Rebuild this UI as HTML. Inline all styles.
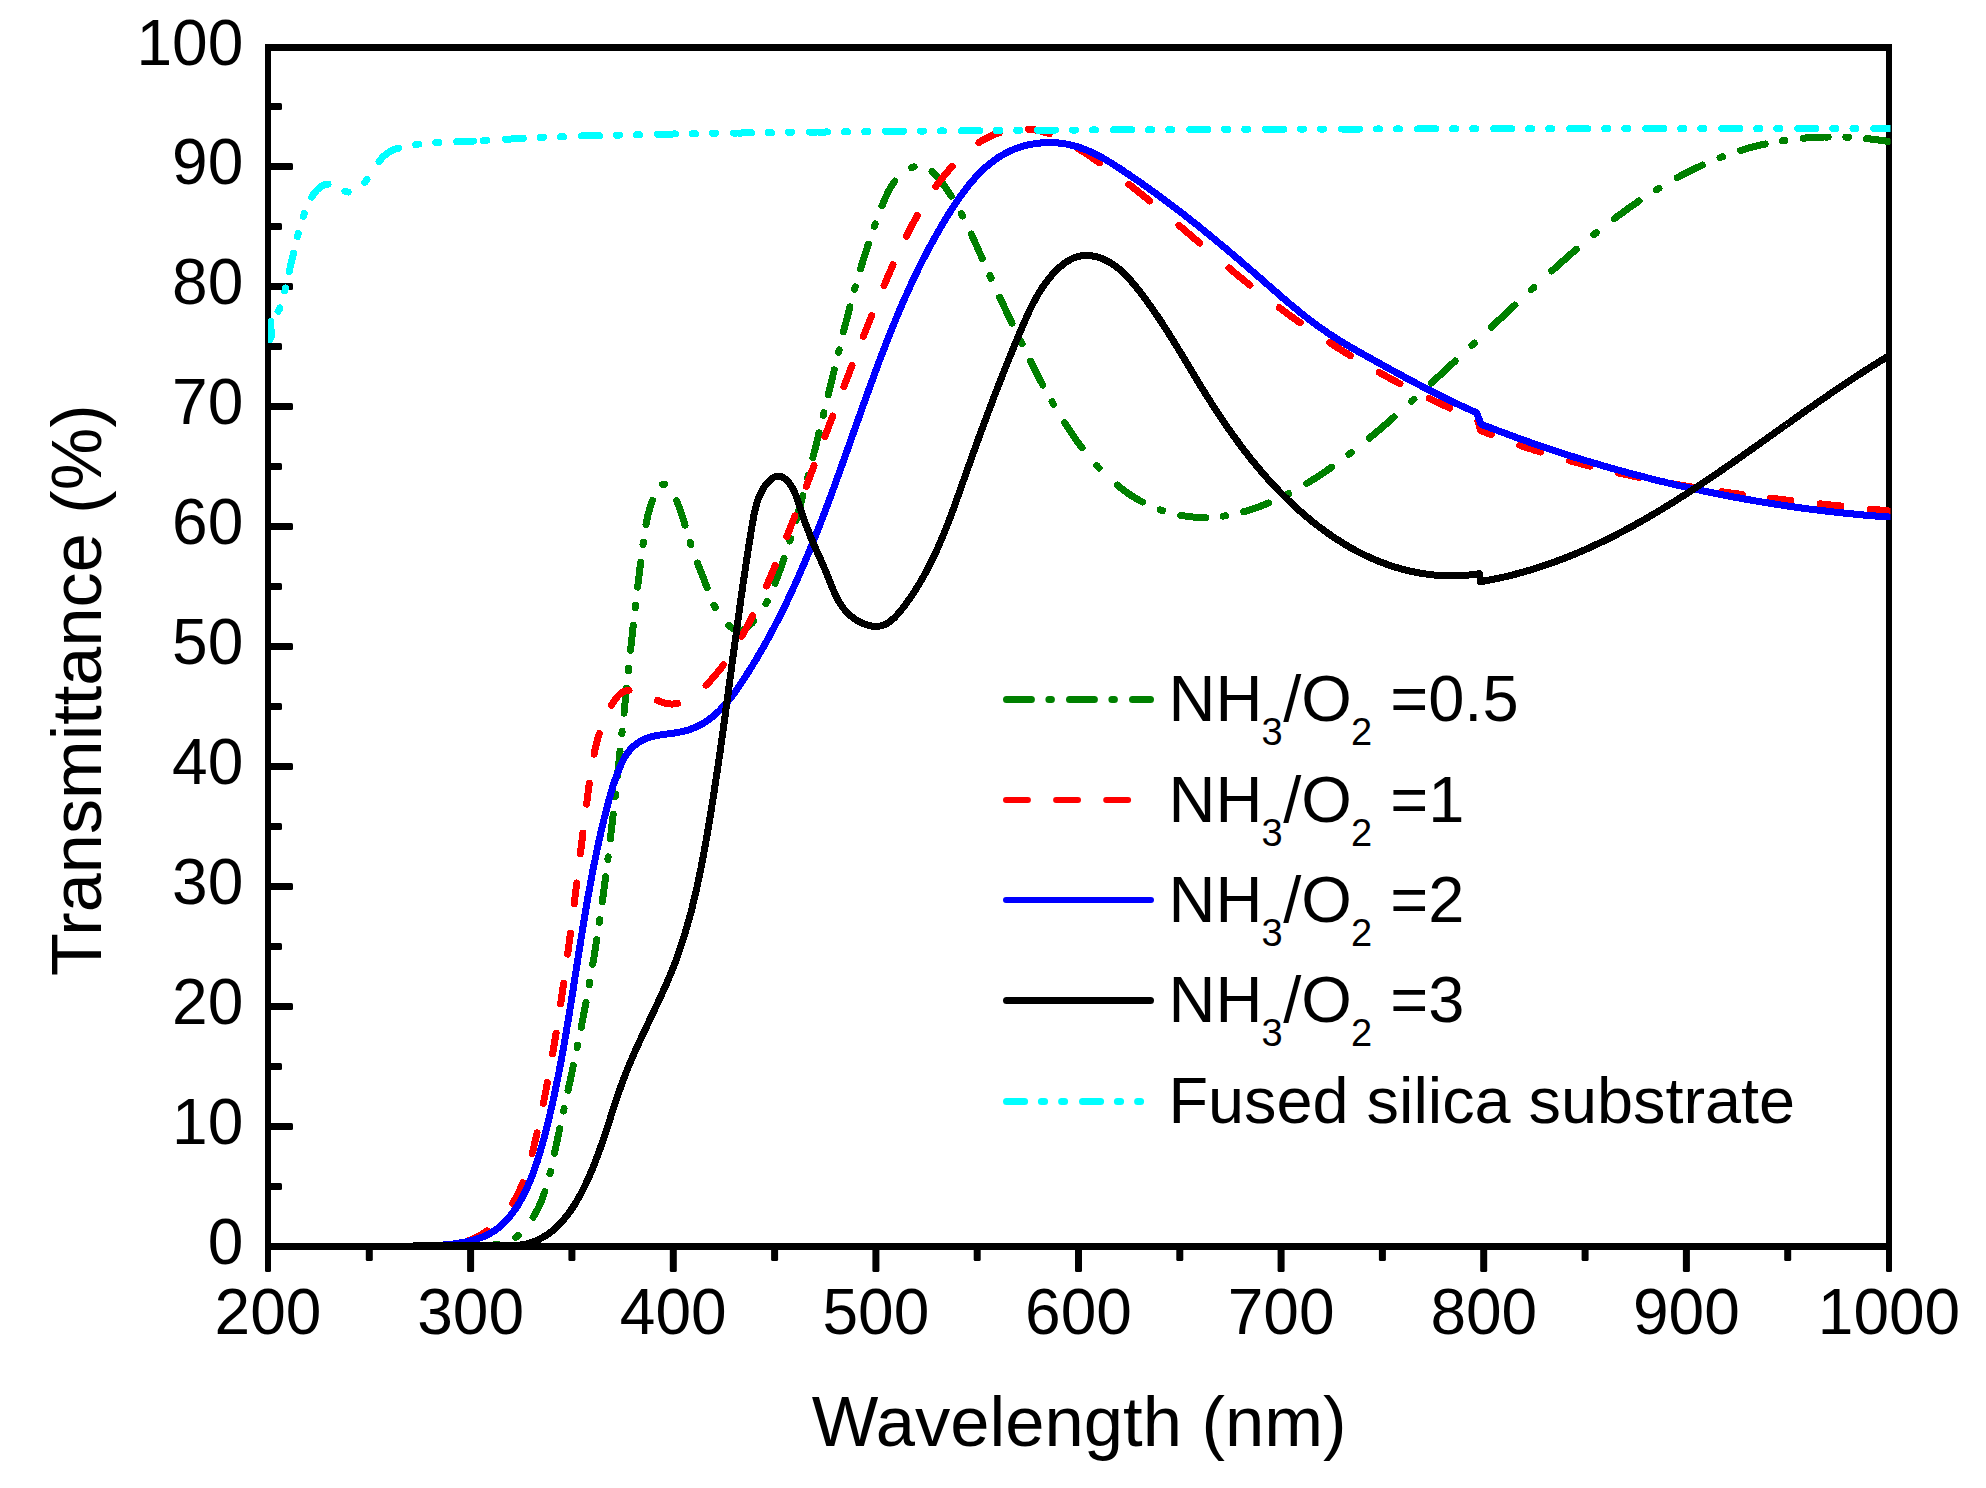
<!DOCTYPE html>
<html lang="en"><head><meta charset="utf-8"><title>Transmittance spectra</title>
<style>html,body{margin:0;padding:0;background:#fff}svg{display:block}text{font-family:"Liberation Sans",Arial,sans-serif;fill:#000}</style></head><body>
<svg width="1986" height="1488" viewBox="0 0 1986 1488">
<rect width="1986" height="1488" fill="#fff"/>
<defs><clipPath id="pc"><rect x="268.0" y="46.5" width="1622.5" height="1196.5"/></clipPath></defs>
<g fill="#000" shape-rendering="crispEdges">
<rect x="265" y="44" width="6" height="1206"/>
<rect x="1886" y="44" width="6" height="1206"/>
<rect x="265" y="44" width="1627" height="7"/>
<rect x="265" y="1243" width="1627" height="7"/>
</g>
<g fill="#000">
<rect x="268" y="1183.0" width="14" height="7" rx="1.5"/>
<rect x="268" y="1123.0" width="25" height="7" rx="1.5"/>
<rect x="268" y="1063.0" width="14" height="7" rx="1.5"/>
<rect x="268" y="1003.0" width="25" height="7" rx="1.5"/>
<rect x="268" y="943.0" width="14" height="7" rx="1.5"/>
<rect x="268" y="883.0" width="25" height="7" rx="1.5"/>
<rect x="268" y="823.0" width="14" height="7" rx="1.5"/>
<rect x="268" y="763.0" width="25" height="7" rx="1.5"/>
<rect x="268" y="703.0" width="14" height="7" rx="1.5"/>
<rect x="268" y="643.0" width="25" height="7" rx="1.5"/>
<rect x="268" y="583.0" width="14" height="7" rx="1.5"/>
<rect x="268" y="523.0" width="25" height="7" rx="1.5"/>
<rect x="268" y="463.0" width="14" height="7" rx="1.5"/>
<rect x="268" y="403.0" width="25" height="7" rx="1.5"/>
<rect x="268" y="343.0" width="14" height="7" rx="1.5"/>
<rect x="268" y="283.0" width="25" height="7" rx="1.5"/>
<rect x="268" y="223.0" width="14" height="7" rx="1.5"/>
<rect x="268" y="163.0" width="25" height="7" rx="1.5"/>
<rect x="268" y="103.0" width="14" height="7" rx="1.5"/>
<rect x="265.0" y="1246" width="6" height="26" rx="1.5"/>
<rect x="365.8" y="1246" width="7" height="15" rx="1.5"/>
<rect x="467.1" y="1246" width="7" height="26" rx="1.5"/>
<rect x="568.4" y="1246" width="7" height="15" rx="1.5"/>
<rect x="669.8" y="1246" width="7" height="26" rx="1.5"/>
<rect x="771.1" y="1246" width="7" height="15" rx="1.5"/>
<rect x="872.4" y="1246" width="7" height="26" rx="1.5"/>
<rect x="973.7" y="1246" width="7" height="15" rx="1.5"/>
<rect x="1075.0" y="1246" width="7" height="26" rx="1.5"/>
<rect x="1176.3" y="1246" width="7" height="15" rx="1.5"/>
<rect x="1277.6" y="1246" width="7" height="26" rx="1.5"/>
<rect x="1378.9" y="1246" width="7" height="15" rx="1.5"/>
<rect x="1480.2" y="1246" width="7" height="26" rx="1.5"/>
<rect x="1581.6" y="1246" width="7" height="15" rx="1.5"/>
<rect x="1682.9" y="1246" width="7" height="26" rx="1.5"/>
<rect x="1784.2" y="1246" width="7" height="15" rx="1.5"/>
<rect x="1886.0" y="1246" width="6" height="26" rx="1.5"/>
</g>
<g clip-path="url(#pc)" fill="none" stroke-linecap="round" stroke-linejoin="round" shape-rendering="crispEdges">
<path d="M488.7 1246.2L490.6 1245.6L492.5 1245.1L494.5 1244.8L496.5 1244.6L498.2 1244.4M515.7 1237.4L516.8 1236.5L518.2 1235.2M533.1 1217.2L533.6 1216.4L534.6 1214.8L535.6 1213.1L536.5 1211.3L537.4 1209.6L538.3 1207.8L539.1 1206.1L539.9 1204.3L540.7 1202.5L541.5 1200.7L542.2 1198.9L542.9 1197.0L543.6 1195.2L544.2 1193.3L544.8 1191.7M549.9 1173.8L550.2 1172.2L550.5 1171.3M554.5 1153.3L554.6 1152.6L555.0 1150.6L555.5 1148.6L555.9 1146.7L556.3 1144.7L556.7 1142.7L557.1 1140.7L557.6 1138.8L558.0 1136.8L558.4 1134.8L558.8 1132.9L559.3 1130.9L559.7 1128.9L559.8 1128.5M563.6 1111.0L564.0 1109.3L564.1 1108.5M568.0 1090.4L568.2 1089.7L568.6 1087.7L569.0 1085.7L569.4 1083.8L569.9 1081.8L570.3 1079.9L570.7 1077.9L571.1 1075.9L571.5 1074.0L572.0 1072.0L572.4 1070.1L572.8 1068.1L573.2 1066.1L573.3 1065.4M577.0 1047.9L577.3 1046.6L577.5 1045.4M581.2 1027.3L581.2 1027.0L581.6 1025.0L582.0 1023.0L582.4 1021.1L582.8 1019.1L583.2 1017.2L583.5 1015.2L583.9 1013.2L584.3 1011.3L584.7 1009.3L585.0 1007.3L585.4 1005.4L585.8 1003.4L586.0 1002.4M589.2 984.8L589.4 983.8L589.6 982.3M592.7 964.4L592.8 964.1L593.1 962.1L593.4 960.1L593.8 958.2L594.1 956.2L594.4 954.2L594.7 952.2L595.0 950.3L595.4 948.3L595.7 946.3L596.0 944.3L596.3 942.4L596.6 940.4L596.7 939.7M599.3 922.3L599.6 920.6L599.7 919.8M602.3 901.7L602.4 900.8L602.7 898.8L603.0 896.8L603.2 894.9L603.5 892.9L603.8 890.9L604.0 888.9L604.3 886.9L604.6 884.9L604.8 883.0L605.1 881.0L605.3 879.0L605.6 877.0L605.6 876.8M607.9 859.3L607.9 859.1L608.1 857.1L608.2 856.8M610.4 838.8L610.5 837.2L610.8 835.3L611.0 833.3L611.2 831.3L611.5 829.3L611.7 827.3L611.9 825.3L612.2 823.3L612.4 821.3L612.6 819.3L612.9 817.3L613.1 815.4L613.2 814.0M615.2 796.5L615.3 795.4L615.5 794.0M617.4 776.0L617.5 775.5L617.7 773.5L617.9 771.5L618.1 769.5L618.3 767.5L618.5 765.5L618.7 763.5L618.9 761.6L619.2 759.6L619.4 757.6L619.6 755.6L619.8 753.6L620.0 751.6L620.0 751.2M621.8 733.7L621.9 733.6L622.1 731.7L622.1 731.2M624.0 713.1L624.1 711.7L624.3 709.7L624.5 707.7L624.7 705.7L624.9 703.8L625.2 701.8L625.4 699.8L625.6 697.8L625.8 695.8L626.0 693.8L626.2 691.8L626.4 689.8L626.5 688.3M628.4 670.8L628.5 669.9L628.6 668.3M630.6 650.2L630.6 650.0L630.8 648.0L631.0 646.0L631.2 644.0L631.4 642.0L631.6 640.1L631.9 638.1L632.1 636.1L632.3 634.1L632.5 632.1L632.7 630.1L632.9 628.1L633.2 626.1L633.3 625.3M635.2 607.8L635.4 606.3L635.5 605.3M637.6 587.1L637.7 586.5L638.0 584.5L638.2 582.5L638.4 580.5L638.7 578.5L638.9 576.6L639.2 574.6L639.4 572.6L639.6 570.6L639.9 568.7L640.1 566.7L640.4 564.7L640.6 562.7L640.7 562.2M643.0 544.7L643.2 543.0L643.3 542.2M646.0 524.7L646.2 523.2L646.6 521.2L647.0 519.3L647.5 517.3L647.9 515.3L648.4 513.3L649.0 511.4L649.5 509.4L650.1 507.4L650.7 505.4L651.4 503.4L652.1 501.4L652.5 500.5M662.5 484.3L663.2 484.0L664.6 484.0L664.9 484.1M676.5 500.6L676.9 501.5L677.7 503.5L678.5 505.4L679.2 507.3L679.9 509.3L680.6 511.2L681.3 513.1L681.9 515.0L682.5 516.9L683.1 518.8L683.7 520.7L684.3 522.6L684.8 524.5L685.0 525.1M690.1 542.3L690.4 543.2L690.9 544.8M697.4 562.9L697.8 563.9L698.5 565.8L699.3 567.7L700.0 569.6L700.8 571.5L701.5 573.4L702.2 575.2L703.0 577.1L703.7 579.0L704.4 580.9L705.2 582.8L705.9 584.7L706.6 586.5L707.1 587.8M714.0 605.2L714.8 606.8L715.3 607.7M728.9 625.5L729.6 626.1L731.3 627.4L733.1 628.6L735.0 629.5L736.8 630.2L738.7 630.5L740.5 630.4L742.2 630.0L744.0 629.3L745.7 628.4L747.3 627.2L748.9 626.0L750.5 624.5L752.0 623.1L753.4 621.6L753.7 621.3M765.9 603.9L766.1 603.4L767.0 601.7L767.2 601.4M775.0 583.3L775.0 583.3L775.8 581.4L776.5 579.5L777.2 577.7L777.9 575.8L778.6 573.9L779.3 572.0L780.0 570.2L780.7 568.3L781.3 566.4L782.0 564.5L782.7 562.6L783.3 560.7L784.0 558.8L784.1 558.5M789.8 541.0L790.2 539.8L790.6 538.5M796.0 520.4L796.5 518.7L797.1 516.8L797.6 514.9L798.1 512.9L798.7 511.0L799.2 509.1L799.8 507.2L800.3 505.2L800.8 503.3L801.4 501.4L801.9 499.4L802.4 497.5L802.9 495.6M807.6 478.1L808.1 476.3L808.2 475.6M812.9 457.6L813.0 456.9L813.5 455.0L814.0 453.1L814.5 451.1L815.0 449.2L815.5 447.3L816.0 445.3L816.4 443.4L816.9 441.4L817.4 439.5L817.9 437.6L818.4 435.6L818.8 433.7L819.1 432.7M823.3 415.3L823.6 414.3L823.9 412.8M828.3 394.7L828.7 392.9L829.2 390.9L829.7 389.0L830.1 387.0L830.6 385.1L831.1 383.1L831.5 381.2L832.0 379.3L832.5 377.3L832.9 375.4L833.4 373.4L833.9 371.5L834.2 369.9M838.4 352.4L838.6 352.0L839.0 350.0L839.1 349.9M843.5 331.8L843.8 330.6L844.3 328.6L844.8 326.7L845.3 324.7L845.8 322.8L846.3 320.9L846.8 318.9L847.3 317.0L847.8 315.0L848.3 313.1L848.8 311.2L849.3 309.2L849.8 307.3L849.9 306.9M854.6 289.4L855.0 288.0L855.3 286.9M860.6 268.9L860.6 268.8L861.1 266.9L861.7 265.0L862.3 263.1L862.9 261.2L863.5 259.3L864.1 257.4L864.6 255.5L865.2 253.6L865.8 251.7L866.5 249.8L867.1 247.9L867.7 246.0L868.3 244.1L868.3 244.0M874.3 226.5L874.7 225.2L875.2 224.0M882.0 205.9L882.7 204.4L883.4 202.5L884.2 200.6L885.0 198.7L885.9 196.8L886.7 195.0L887.6 193.1L888.5 191.3L889.5 189.5L890.5 187.7L891.5 186.0L892.6 184.3L893.7 182.7L894.9 181.1M911.7 167.7L912.0 167.6L913.9 166.9L914.2 166.8M932.2 171.5L932.7 171.9L934.2 173.3L935.6 174.8L937.0 176.3L938.4 177.9L939.7 179.6L941.0 181.3L942.3 183.0L943.5 184.7L944.7 186.4L945.9 188.1L947.1 189.9L948.3 191.6L949.4 193.3L950.5 195.0L951.3 196.2M961.4 213.6L961.7 214.3L962.6 216.0L962.6 216.1M971.3 234.0L972.1 235.7L972.9 237.5L973.7 239.3L974.5 241.1L975.3 242.9L976.1 244.7L976.9 246.5L977.7 248.3L978.5 250.1L979.3 251.9L980.1 253.7L980.9 255.5L981.7 257.3L982.2 258.5M989.9 275.7L990.7 277.4L991.1 278.3M999.7 297.2L999.9 297.5L1000.7 299.3L1001.6 301.1L1002.4 302.9L1003.3 304.8L1004.1 306.6L1005.0 308.4L1005.9 310.2L1006.7 312.1L1007.6 313.9L1008.4 315.7L1009.3 317.5L1010.2 319.3L1011.0 321.2L1011.9 323.0L1012.0 323.2M1020.8 341.4L1021.5 342.9L1022.0 343.9M1030.5 361.2L1031.2 362.5L1032.1 364.3L1033.0 366.1L1033.9 367.9L1034.8 369.6L1035.7 371.4L1036.6 373.2L1037.5 374.9L1038.4 376.7L1039.3 378.5L1040.2 380.2L1041.2 382.0L1042.1 383.7L1042.8 385.1M1052.1 401.8L1052.7 402.9L1053.5 404.3M1064.6 422.6L1065.1 423.4L1066.2 425.1L1067.3 426.8L1068.4 428.5L1069.5 430.2L1070.6 431.8L1071.8 433.5L1072.9 435.2L1074.1 436.8L1075.2 438.5L1076.4 440.2L1077.6 441.8L1078.8 443.4L1080.0 445.1L1081.2 446.7L1082.0 447.8M1096.6 465.5L1097.9 466.9L1099.0 468.0M1117.2 485.1L1118.3 486.1L1119.8 487.3L1121.4 488.5L1123.0 489.7L1124.6 490.9L1126.2 492.1L1127.8 493.2L1129.5 494.3L1131.1 495.4L1132.8 496.5L1134.5 497.5L1136.2 498.6L1137.9 499.6L1139.6 500.5L1141.4 501.5L1142.4 502.0M1160.1 509.8L1161.5 510.3L1162.6 510.6M1180.7 515.3L1180.9 515.4L1182.9 515.7L1184.9 516.0L1186.9 516.3L1188.8 516.6L1190.8 516.8L1192.8 517.0L1194.8 517.2L1196.8 517.3L1198.8 517.4L1200.8 517.5L1202.8 517.6L1204.8 517.6L1205.6 517.6M1223.1 516.2L1224.7 515.9L1225.6 515.8M1243.7 511.7L1244.3 511.6L1246.2 511.0L1248.1 510.5L1250.1 509.9L1252.0 509.2L1253.9 508.6L1255.8 507.9L1257.7 507.3L1259.6 506.6L1261.5 505.8L1263.3 505.1L1265.2 504.4L1267.1 503.6L1268.7 503.0M1286.2 494.9L1287.1 494.4L1288.7 493.6M1306.7 483.5L1308.0 482.7L1309.7 481.7L1311.4 480.6L1313.1 479.6L1314.8 478.5L1316.5 477.4L1318.2 476.3L1319.8 475.2L1321.5 474.1L1323.2 473.0L1324.8 471.9L1326.5 470.8L1328.1 469.6L1329.8 468.5L1331.4 467.3L1331.5 467.3M1348.9 454.4L1349.1 454.3L1350.7 453.1L1351.4 452.5M1369.4 438.1L1369.4 438.1L1370.9 436.8L1372.5 435.5L1374.0 434.3L1375.5 433.0L1377.1 431.7L1378.6 430.4L1380.1 429.1L1381.6 427.8L1383.2 426.5L1384.7 425.2L1386.2 423.9L1387.7 422.6L1389.2 421.3L1390.7 419.9L1392.2 418.6L1393.7 417.3L1394.1 417.0M1411.5 401.4L1411.6 401.3L1413.1 399.9L1413.9 399.2M1431.2 383.2L1432.2 382.3L1433.7 380.9L1435.2 379.6L1436.6 378.2L1438.1 376.8L1439.6 375.5L1441.1 374.1L1442.5 372.7L1444.0 371.4L1445.5 370.0L1446.9 368.6L1448.4 367.3L1449.9 365.9L1451.3 364.5L1452.8 363.2L1454.3 361.8L1455.1 361.0M1471.9 345.3L1473.3 344.0L1474.3 343.1M1491.4 327.1L1492.3 326.2L1493.8 324.8L1495.2 323.5L1496.7 322.1L1498.2 320.7L1499.6 319.4L1501.1 318.0L1502.5 316.6L1504.0 315.3L1505.5 313.9L1506.9 312.5L1508.4 311.2L1509.8 309.8L1511.3 308.4L1512.8 307.1L1514.2 305.7L1514.9 305.1M1531.4 289.7L1531.7 289.3L1533.2 288.0L1533.8 287.4M1551.7 271.0L1552.3 270.5L1553.8 269.2L1555.3 267.8L1556.7 266.5L1558.2 265.2L1559.7 263.8L1561.2 262.5L1562.7 261.2L1564.2 259.9L1565.7 258.5L1567.2 257.2L1568.7 255.9L1570.2 254.6L1571.7 253.3L1573.2 252.0L1574.7 250.7L1576.2 249.4L1576.4 249.2M1593.8 234.8L1594.7 234.0L1596.2 232.8L1596.3 232.8M1614.3 218.7L1615.3 218.0L1616.9 216.8L1618.5 215.6L1620.1 214.4L1621.8 213.2L1623.4 212.0L1625.0 210.8L1626.7 209.6L1628.3 208.5L1629.9 207.3L1631.6 206.1L1633.2 205.0L1634.9 203.8L1636.6 202.7L1638.2 201.6L1639.0 201.0M1656.4 189.8L1656.8 189.6L1658.5 188.5L1658.9 188.3M1677.2 177.7L1677.6 177.5L1679.4 176.5L1681.1 175.6L1682.9 174.7L1684.7 173.7L1686.4 172.8L1688.2 171.9L1690.0 171.0L1691.8 170.1L1693.6 169.3L1695.4 168.4L1697.2 167.5L1699.0 166.7L1700.8 165.9L1702.4 165.1M1720.1 157.7L1721.0 157.3L1722.6 156.7M1740.5 150.5L1741.7 150.2L1743.6 149.6L1745.5 149.0L1747.4 148.5L1749.3 147.9L1751.2 147.4L1753.2 146.9L1755.1 146.4L1757.0 145.9L1759.0 145.4L1760.9 145.0L1762.9 144.5L1764.8 144.1L1765.1 144.0M1782.4 140.8L1782.5 140.7L1784.5 140.4L1784.9 140.4M1803.2 138.2L1804.5 138.1L1806.5 137.9L1808.5 137.8L1810.5 137.7L1812.5 137.5L1814.5 137.4L1816.5 137.3L1818.5 137.2L1820.5 137.1L1822.5 137.1L1824.5 137.0L1826.6 137.0L1828.2 137.0M1845.9 137.2L1846.7 137.2L1848.4 137.3M1866.5 138.6L1866.6 138.6L1868.6 138.8L1870.6 139.0L1872.6 139.3L1874.6 139.5L1876.5 139.7L1878.5 140.0L1880.5 140.3L1882.4 140.6L1884.4 140.8L1886.3 141.1L1888.3 141.5" stroke="#008000" stroke-width="7.0"/>
<path d="M430.3 1245.6L432.2 1245.9L434.2 1246.1L436.2 1246.3L437.1 1246.3M466.3 1241.6L468.0 1241.0L469.9 1240.2L471.8 1239.4L473.7 1238.6L475.6 1237.7L477.4 1236.8L479.2 1235.8L481.0 1234.8L482.7 1233.8L484.5 1232.7L486.1 1231.6L487.2 1230.9M512.6 1203.5L513.5 1202.0L514.5 1200.3L515.4 1198.6L516.3 1196.9L517.2 1195.2L518.1 1193.5L518.9 1191.7L519.8 1189.9L520.6 1188.1L521.4 1186.3L522.1 1184.5L522.8 1182.7M532.1 1153.6L532.6 1151.9L533.1 1149.9L533.6 1147.9L534.0 1145.9L534.5 1143.9L535.0 1141.9L535.5 1139.9L535.9 1137.9L536.4 1135.9L536.8 1133.9L537.1 1132.7M543.3 1103.4L543.6 1102.0L544.0 1100.0L544.4 1098.0L544.8 1096.0L545.2 1094.0L545.6 1092.0L546.0 1090.1L546.3 1088.1L546.7 1086.1L547.1 1084.1L547.4 1082.6M552.6 1053.9L552.8 1052.5L553.2 1050.5L553.5 1048.6L553.8 1046.6L554.2 1044.6L554.5 1042.6L554.8 1040.7L555.2 1038.7L555.5 1036.7L555.8 1034.8L556.1 1033.1M560.6 1004.0L560.7 1003.3L561.0 1001.4L561.3 999.4L561.6 997.4L561.9 995.5L562.2 993.5L562.5 991.5L562.8 989.6L563.0 987.6L563.3 985.7L563.6 983.7L563.7 983.2M567.7 954.2L567.9 952.3L568.2 950.3L568.5 948.3L568.7 946.4L569.0 944.4L569.2 942.4L569.5 940.5L569.8 938.5L570.0 936.5L570.3 934.6L570.4 933.3M574.2 903.9L574.3 903.0L574.5 901.0L574.8 899.0L575.0 897.1L575.3 895.1L575.5 893.1L575.8 891.1L576.0 889.1L576.2 887.2L576.5 885.2L576.7 883.2L576.8 883.0M580.3 853.9L580.4 853.4L580.7 851.4L580.9 849.4L581.1 847.4L581.4 845.4L581.6 843.4L581.9 841.4L582.1 839.4L582.4 837.4L582.6 835.4L582.9 833.3L582.9 833.1M586.6 804.1L586.7 803.1L587.0 801.1L587.2 799.1L587.5 797.0L587.8 795.0L588.0 793.0L588.3 790.9L588.6 788.9L588.8 786.9L589.1 784.8L589.3 783.3M594.1 754.1L594.4 752.6L594.8 750.6L595.3 748.7L595.7 746.7L596.2 744.8L596.7 742.8L597.2 740.9L597.7 739.0L598.2 737.1L598.8 735.1L599.3 733.6M611.4 705.4L611.8 704.7L612.8 703.0L613.8 701.4L614.9 699.8L616.0 698.3L617.2 696.9L618.4 695.6L619.7 694.4L621.0 693.3L622.4 692.4L623.8 691.6L625.3 691.0L626.9 690.5L628.5 690.3L629.0 690.2M657.4 700.4L659.3 701.2L661.3 701.9L663.3 702.6L665.3 703.2L667.2 703.6L669.2 703.9L671.1 704.0L673.1 704.0L675.0 703.9L676.8 703.7L677.7 703.5M706.1 685.2L707.0 684.3L708.4 682.7L709.9 681.2L711.3 679.7L712.6 678.2L714.0 676.6L715.3 675.1L716.6 673.5L717.9 672.0L719.2 670.4L720.4 668.8L721.7 667.2L722.9 665.6L723.4 664.8M741.6 636.3L742.1 635.5L743.1 633.8L744.0 632.1L745.0 630.3L745.9 628.6L746.8 626.8L747.8 625.1L748.7 623.3L749.6 621.5L750.5 619.8L751.4 618.0L752.3 616.2L752.7 615.6M766.4 586.1L766.7 585.5L767.5 583.7L768.3 581.8L769.1 580.0L769.9 578.1L770.7 576.3L771.5 574.5L772.2 572.6L773.0 570.8L773.8 568.9L774.6 567.0L775.3 565.3M786.8 536.6L787.3 535.4L788.0 533.5L788.8 531.6L789.5 529.7L790.2 527.9L790.9 526.0L791.7 524.1L792.4 522.3L793.1 520.4L793.9 518.5L794.6 516.7L794.9 515.8M806.2 486.4L806.8 484.8L807.5 483.0L808.2 481.1L808.9 479.2L809.6 477.4L810.3 475.5L811.0 473.6L811.7 471.7L812.4 469.9L813.1 468.0L813.8 466.1L814.0 465.6M824.9 436.9L825.1 436.2L825.8 434.3L826.5 432.5L827.2 430.6L827.9 428.7L828.6 426.9L829.3 425.0L830.0 423.1L830.8 421.2L831.5 419.4L832.2 417.5L832.7 416.0M843.9 386.5L844.2 385.8L844.9 383.9L845.6 382.1L846.3 380.2L847.0 378.3L847.8 376.5L848.5 374.6L849.2 372.7L849.9 370.9L850.6 369.0L851.4 367.1L852.0 365.5M863.3 336.5L863.7 335.5L864.5 333.6L865.2 331.8L865.9 329.9L866.7 328.1L867.4 326.2L868.2 324.3L868.9 322.5L869.7 320.6L870.4 318.8L871.2 316.9L871.7 315.5M884.0 285.6L884.2 285.3L884.9 283.5L885.7 281.6L886.5 279.7L887.3 277.9L888.1 276.0L888.9 274.2L889.7 272.3L890.5 270.5L891.3 268.6L892.1 266.8L892.9 264.9L893.0 264.7M906.3 236.2L906.5 235.8L907.4 234.0L908.3 232.2L909.2 230.4L910.2 228.6L911.1 226.9L912.0 225.1L913.0 223.3L913.9 221.6L914.9 219.8L915.9 218.1L916.8 216.3L917.3 215.6M935.9 186.5L936.2 186.1L937.3 184.5L938.5 182.9L939.7 181.4L941.0 179.8L942.2 178.2L943.4 176.7L944.7 175.1L945.9 173.6L947.2 172.0L948.5 170.5L949.8 169.0L951.1 167.5L952.2 166.3M979.0 142.6L979.4 142.3L981.0 141.3L982.7 140.2L984.5 139.2L986.2 138.3L988.0 137.4L989.8 136.5L991.6 135.7L993.4 134.9L995.3 134.1L997.1 133.5L999.0 132.8L999.2 132.8M1028.4 129.2L1029.3 129.3L1031.3 129.5L1033.3 129.7L1035.3 130.0L1037.2 130.4L1039.2 130.8L1041.1 131.2L1043.0 131.7L1044.9 132.3L1046.8 132.9L1048.6 133.5L1049.4 133.8M1078.6 148.8L1078.8 148.9L1080.5 150.0L1082.2 151.1L1083.9 152.2L1085.6 153.3L1087.2 154.4L1088.9 155.5L1090.6 156.6L1092.3 157.8L1093.9 158.9L1095.6 160.0L1097.2 161.2L1098.9 162.3L1099.6 162.8M1128.9 184.3L1129.5 184.8L1131.1 186.0L1132.7 187.2L1134.2 188.5L1135.8 189.7L1137.4 190.9L1138.9 192.2L1140.5 193.4L1142.1 194.7L1143.6 195.9L1145.2 197.2L1146.7 198.4L1148.3 199.7L1149.7 200.9M1178.9 225.2L1179.0 225.4L1180.5 226.7L1182.1 228.0L1183.6 229.3L1185.1 230.6L1186.6 231.9L1188.2 233.2L1189.7 234.5L1191.2 235.8L1192.7 237.1L1194.2 238.4L1195.8 239.7L1197.3 241.0L1198.8 242.3L1199.8 243.1M1229.0 268.0L1229.4 268.3L1230.9 269.6L1232.4 270.9L1234.0 272.1L1235.5 273.4L1237.1 274.7L1238.6 276.0L1240.2 277.2L1241.7 278.5L1243.3 279.8L1244.8 281.0L1246.4 282.3L1247.9 283.6L1249.5 284.8L1249.9 285.2M1279.2 307.7L1279.7 308.0L1281.3 309.2L1282.9 310.4L1284.5 311.6L1286.1 312.8L1287.7 313.9L1289.4 315.1L1291.0 316.3L1292.6 317.4L1294.2 318.6L1295.9 319.8L1297.5 320.9L1299.1 322.1L1300.2 322.8M1329.7 342.6L1330.7 343.3L1332.4 344.3L1334.1 345.4L1335.8 346.5L1337.4 347.6L1339.1 348.6L1340.8 349.7L1342.5 350.8L1344.2 351.8L1345.9 352.9L1347.6 353.9L1349.3 355.0L1350.5 355.7M1379.2 372.4L1380.4 373.1L1382.2 374.1L1383.9 375.1L1385.7 376.0L1387.4 377.0L1389.2 377.9L1390.9 378.9L1392.7 379.9L1394.5 380.8L1396.2 381.7L1398.0 382.7L1399.8 383.6L1399.9 383.7M1429.2 398.4L1430.2 398.9L1432.0 399.8L1433.8 400.6L1435.6 401.5L1437.4 402.3L1439.2 403.2L1441.0 404.0L1442.8 404.9L1444.7 405.7L1446.5 406.5L1448.3 407.4L1449.9 408.1M1477.9 420.7L1480.5 430.4L1482.4 431.2L1484.3 432.0L1486.1 432.7L1488.0 433.5L1489.9 434.2L1491.2 434.7M1519.8 445.2L1520.2 445.4L1522.1 446.0L1524.0 446.7L1525.9 447.3L1527.9 448.0L1529.8 448.6L1531.7 449.2L1533.6 449.9L1535.5 450.5L1537.4 451.1L1539.4 451.7L1540.4 452.1M1569.5 460.7L1570.2 460.9L1572.2 461.4L1574.1 462.0L1576.1 462.5L1578.0 463.0L1579.9 463.5L1581.9 464.0L1583.8 464.6L1585.8 465.1L1587.7 465.6L1589.7 466.1L1590.1 466.2M1618.4 472.9L1619.1 473.1L1621.0 473.5L1623.0 474.0L1625.0 474.4L1626.9 474.8L1628.9 475.2L1630.9 475.7L1632.8 476.1L1634.8 476.5L1636.8 476.9L1638.8 477.3L1639.4 477.4M1669.6 483.2L1670.4 483.4L1672.4 483.7L1674.4 484.1L1676.4 484.4L1678.4 484.8L1680.4 485.1L1682.4 485.5L1684.4 485.8L1686.3 486.2L1688.3 486.5L1690.3 486.8L1691.2 487.0M1721.4 491.6L1722.2 491.8L1724.2 492.0L1726.2 492.3L1728.2 492.6L1730.2 492.9L1732.2 493.2L1734.2 493.5L1736.2 493.7L1738.2 494.0L1740.2 494.3L1742.2 494.6L1742.3 494.6M1770.2 498.2L1770.3 498.2L1772.3 498.4L1774.3 498.7L1776.3 498.9L1778.3 499.1L1780.3 499.4L1782.3 499.6L1784.3 499.9L1786.3 500.1L1788.3 500.3L1790.3 500.6L1790.7 500.6M1820.1 503.9L1820.4 503.9L1822.4 504.1L1824.4 504.3L1826.4 504.6L1828.4 504.8L1830.4 505.0L1832.4 505.2L1834.4 505.4L1836.4 505.6L1838.5 505.8L1840.5 506.0L1841.0 506.1M1870.2 509.1L1870.5 509.1L1872.5 509.3L1874.5 509.5L1876.5 509.7L1878.5 509.9L1880.5 510.1L1882.4 510.3L1884.4 510.5L1886.4 510.8L1888.4 511.0" stroke="#ff0000" stroke-width="7.0"/>
<path d="M430.3 1246.1L432.2 1245.9L434.2 1245.8L436.1 1245.6L438.1 1245.5L440.1 1245.3L442.1 1245.1L444.1 1244.9L446.1 1244.7L448.1 1244.5L450.1 1244.3L452.2 1244.1L454.2 1243.8L456.2 1243.5L458.2 1243.2L460.3 1242.9L462.3 1242.5L464.3 1242.2L466.3 1241.8L468.3 1241.3L470.2 1240.9L472.2 1240.4L474.1 1239.8L476.1 1239.3L478.0 1238.6L479.9 1238.0L481.7 1237.3L483.5 1236.6L485.3 1235.8L487.1 1234.9L488.9 1234.1L490.6 1233.1L492.3 1232.1L493.9 1231.1L495.5 1230.0L497.1 1228.9L498.6 1227.7L500.1 1226.4L501.6 1225.2L503.0 1223.8L504.4 1222.5L505.8 1221.0L507.1 1219.6L508.4 1218.1L509.7 1216.6L511.0 1215.0L512.2 1213.4L513.4 1211.8L514.5 1210.2L515.7 1208.5L516.8 1206.8L517.9 1205.1L518.9 1203.3L520.0 1201.6L521.0 1199.8L522.0 1198.0L522.9 1196.2L523.9 1194.3L524.8 1192.5L525.7 1190.7L526.5 1188.8L527.4 1186.9L528.2 1185.1L529.0 1183.2L529.8 1181.3L530.6 1179.5L531.4 1177.6L532.1 1175.7L532.8 1173.8L533.5 1171.9L534.2 1170.0L534.9 1168.1L535.6 1166.2L536.2 1164.3L536.9 1162.4L537.5 1160.5L538.1 1158.6L538.7 1156.7L539.3 1154.8L539.9 1152.9L540.4 1150.9L541.0 1149.0L541.5 1147.1L542.1 1145.2L542.6 1143.2L543.1 1141.3L543.7 1139.4L544.2 1137.4L544.7 1135.5L545.2 1133.6L545.7 1131.6L546.2 1129.7L546.7 1127.8L547.2 1125.8L547.6 1123.9L548.1 1121.9L548.6 1120.0L549.1 1118.1L549.5 1116.1L550.0 1114.2L550.4 1112.2L550.9 1110.3L551.3 1108.3L551.8 1106.4L552.2 1104.4L552.7 1102.5L553.1 1100.5L553.5 1098.6L553.9 1096.6L554.4 1094.7L554.8 1092.7L555.2 1090.8L555.6 1088.8L556.0 1086.9L556.4 1084.9L556.8 1082.9L557.2 1081.0L557.6 1079.0L558.0 1077.1L558.4 1075.1L558.8 1073.2L559.1 1071.2L559.5 1069.2L559.9 1067.3L560.3 1065.3L560.6 1063.3L561.0 1061.4L561.4 1059.4L561.7 1057.4L562.1 1055.5L562.5 1053.5L562.8 1051.5L563.2 1049.6L563.5 1047.6L563.9 1045.6L564.2 1043.7L564.6 1041.7L564.9 1039.7L565.2 1037.8L565.6 1035.8L565.9 1033.8L566.3 1031.8L566.6 1029.9L566.9 1027.9L567.2 1025.9L567.6 1024.0L567.9 1022.0L568.2 1020.0L568.6 1018.0L568.9 1016.1L569.2 1014.1L569.5 1012.1L569.8 1010.1L570.2 1008.2L570.5 1006.2L570.8 1004.2L571.1 1002.2L571.4 1000.2L571.7 998.3L572.0 996.3L572.4 994.3L572.7 992.3L573.0 990.4L573.3 988.4L573.6 986.4L573.9 984.4L574.2 982.4L574.5 980.5L574.8 978.5L575.1 976.5L575.4 974.5L575.8 972.5L576.1 970.6L576.4 968.6L576.7 966.6L577.0 964.6L577.3 962.6L577.6 960.7L577.9 958.7L578.2 956.7L578.5 954.7L578.8 952.7L579.2 950.8L579.5 948.8L579.8 946.8L580.1 944.8L580.4 942.8L580.7 940.9L581.0 938.9L581.3 936.9L581.7 934.9L582.0 932.9L582.3 931.0L582.6 929.0L582.9 927.0L583.3 925.0L583.6 923.1L583.9 921.1L584.2 919.1L584.6 917.1L584.9 915.1L585.2 913.2L585.6 911.2L585.9 909.2L586.2 907.2L586.6 905.3L586.9 903.3L587.2 901.3L587.6 899.3L587.9 897.3L588.3 895.4L588.6 893.4L589.0 891.4L589.3 889.5L589.7 887.5L590.1 885.5L590.4 883.5L590.8 881.6L591.2 879.6L591.5 877.6L591.9 875.6L592.3 873.7L592.7 871.7L593.0 869.7L593.4 867.8L593.8 865.8L594.2 863.8L594.6 861.9L595.0 859.9L595.4 857.9L595.8 856.0L596.2 854.0L596.6 852.0L597.0 850.1L597.4 848.1L597.8 846.1L598.3 844.2L598.7 842.2L599.1 840.3L599.6 838.3L600.0 836.3L600.4 834.4L600.9 832.4L601.3 830.5L601.8 828.5L602.2 826.5L602.7 824.6L603.2 822.6L603.6 820.7L604.1 818.7L604.6 816.8L605.1 814.8L605.6 812.9L606.1 810.9L606.6 809.0L607.1 807.0L607.6 805.1L608.1 803.1L608.6 801.2L609.1 799.2L609.7 797.3L610.2 795.4L610.8 793.4L611.3 791.5L611.9 789.6L612.5 787.7L613.1 785.7L613.7 783.8L614.4 781.9L615.0 780.0L615.7 778.1L616.4 776.3L617.1 774.4L617.8 772.5L618.5 770.6L619.3 768.8L620.0 766.9L620.8 765.1L621.6 763.3L622.5 761.5L623.4 759.7L624.3 758.0L625.3 756.3L626.3 754.7L627.4 753.1L628.6 751.6L629.8 750.1L631.1 748.7L632.4 747.4L633.8 746.1L635.2 744.9L636.7 743.8L638.2 742.7L639.8 741.7L641.4 740.7L643.1 739.9L644.8 739.1L646.6 738.3L648.4 737.7L650.3 737.1L652.2 736.6L654.1 736.1L656.1 735.7L658.1 735.3L660.1 735.0L662.1 734.7L664.2 734.4L666.2 734.1L668.3 733.8L670.4 733.6L672.4 733.3L674.5 733.0L676.6 732.7L678.6 732.3L680.7 731.9L682.7 731.5L684.7 731.0L686.7 730.5L688.6 729.9L690.5 729.2L692.4 728.5L694.3 727.8L696.1 727.0L697.9 726.1L699.7 725.2L701.4 724.3L703.2 723.3L704.8 722.2L706.5 721.2L708.1 720.1L709.7 718.9L711.3 717.7L712.8 716.5L714.3 715.3L715.8 714.0L717.2 712.6L718.7 711.3L720.1 709.9L721.4 708.5L722.8 707.1L724.1 705.6L725.5 704.1L726.8 702.6L728.0 701.1L729.3 699.5L730.5 698.0L731.8 696.4L733.0 694.8L734.2 693.2L735.4 691.5L736.5 689.9L737.7 688.2L738.8 686.6L740.0 684.9L741.1 683.2L742.2 681.5L743.3 679.8L744.4 678.1L745.5 676.4L746.6 674.7L747.7 673.0L748.8 671.3L749.9 669.6L750.9 667.9L752.0 666.2L753.0 664.5L754.1 662.7L755.1 661.0L756.2 659.3L757.2 657.6L758.2 655.8L759.2 654.1L760.2 652.4L761.3 650.6L762.3 648.9L763.3 647.1L764.2 645.4L765.2 643.6L766.2 641.9L767.2 640.1L768.2 638.4L769.1 636.6L770.1 634.8L771.0 633.1L772.0 631.3L772.9 629.5L773.9 627.7L774.8 626.0L775.7 624.2L776.6 622.4L777.6 620.6L778.5 618.8L779.4 617.0L780.3 615.3L781.2 613.5L782.1 611.7L783.0 609.9L783.8 608.1L784.7 606.3L785.6 604.5L786.5 602.7L787.3 600.9L788.2 599.0L789.0 597.2L789.9 595.4L790.8 593.6L791.6 591.8L792.4 590.0L793.3 588.1L794.1 586.3L794.9 584.5L795.8 582.7L796.6 580.8L797.4 579.0L798.2 577.2L799.0 575.3L799.8 573.5L800.6 571.7L801.4 569.8L802.2 568.0L803.0 566.2L803.8 564.3L804.6 562.5L805.4 560.6L806.2 558.8L806.9 556.9L807.7 555.1L808.5 553.2L809.2 551.4L810.0 549.5L810.8 547.7L811.5 545.8L812.3 543.9L813.0 542.1L813.8 540.2L814.5 538.4L815.3 536.5L816.0 534.6L816.7 532.8L817.5 530.9L818.2 529.0L818.9 527.2L819.7 525.3L820.4 523.4L821.1 521.6L821.8 519.7L822.6 517.8L823.3 515.9L824.0 514.1L824.7 512.2L825.4 510.3L826.1 508.4L826.8 506.5L827.5 504.7L828.2 502.8L828.9 500.9L829.6 499.0L830.3 497.1L831.0 495.3L831.7 493.4L832.4 491.5L833.1 489.6L833.8 487.7L834.5 485.8L835.2 483.9L835.9 482.1L836.5 480.2L837.2 478.3L837.9 476.4L838.6 474.5L839.3 472.6L839.9 470.7L840.6 468.8L841.3 466.9L842.0 465.1L842.6 463.2L843.3 461.3L844.0 459.4L844.7 457.5L845.3 455.6L846.0 453.7L846.7 451.8L847.4 449.9L848.0 448.0L848.7 446.1L849.4 444.3L850.0 442.4L850.7 440.5L851.4 438.6L852.0 436.7L852.7 434.8L853.4 432.9L854.0 431.0L854.7 429.1L855.4 427.2L856.1 425.4L856.7 423.5L857.4 421.6L858.1 419.7L858.7 417.8L859.4 415.9L860.1 414.0L860.7 412.1L861.4 410.2L862.1 408.4L862.8 406.5L863.4 404.6L864.1 402.7L864.8 400.8L865.5 398.9L866.1 397.1L866.8 395.2L867.5 393.3L868.2 391.4L868.8 389.5L869.5 387.6L870.2 385.8L870.9 383.9L871.6 382.0L872.3 380.1L873.0 378.3L873.6 376.4L874.3 374.5L875.0 372.6L875.7 370.8L876.4 368.9L877.1 367.0L877.8 365.2L878.5 363.3L879.2 361.4L879.9 359.6L880.6 357.7L881.3 355.8L882.0 354.0L882.8 352.1L883.5 350.3L884.2 348.4L884.9 346.5L885.6 344.7L886.3 342.8L887.1 341.0L887.8 339.1L888.5 337.3L889.3 335.4L890.0 333.6L890.7 331.7L891.5 329.9L892.2 328.0L893.0 326.2L893.7 324.4L894.5 322.5L895.2 320.7L896.0 318.8L896.7 317.0L897.5 315.2L898.3 313.3L899.0 311.5L899.8 309.7L900.6 307.9L901.4 306.0L902.2 304.2L902.9 302.4L903.7 300.6L904.5 298.7L905.3 296.9L906.2 295.1L907.0 293.3L907.8 291.5L908.6 289.7L909.4 287.9L910.3 286.0L911.1 284.2L911.9 282.4L912.8 280.6L913.6 278.8L914.5 277.0L915.3 275.2L916.2 273.4L917.1 271.6L917.9 269.8L918.8 268.0L919.7 266.2L920.6 264.4L921.5 262.7L922.4 260.9L923.3 259.1L924.2 257.3L925.1 255.5L926.1 253.7L927.0 252.0L927.9 250.2L928.9 248.4L929.8 246.6L930.8 244.8L931.8 243.1L932.7 241.3L933.7 239.5L934.7 237.8L935.7 236.0L936.7 234.2L937.7 232.5L938.7 230.7L939.7 229.0L940.7 227.2L941.8 225.4L942.8 223.7L943.8 221.9L944.9 220.2L946.0 218.4L947.0 216.7L948.1 214.9L949.2 213.2L950.3 211.5L951.4 209.7L952.5 208.0L953.6 206.3L954.8 204.5L955.9 202.8L957.1 201.1L958.2 199.4L959.4 197.7L960.6 196.1L961.8 194.4L963.0 192.8L964.2 191.1L965.4 189.5L966.7 187.9L967.9 186.3L969.2 184.7L970.5 183.1L971.8 181.6L973.1 180.1L974.4 178.6L975.8 177.1L977.1 175.6L978.5 174.2L979.9 172.7L981.3 171.3L982.7 170.0L984.2 168.6L985.6 167.3L987.1 166.0L988.6 164.7L990.1 163.5L991.7 162.3L993.2 161.1L994.8 159.9L996.4 158.8L998.0 157.7L999.6 156.7L1001.3 155.6L1003.0 154.7L1004.7 153.7L1006.4 152.8L1008.1 151.9L1009.9 151.1L1011.7 150.3L1013.5 149.5L1015.3 148.8L1017.2 148.1L1019.0 147.5L1020.9 146.9L1022.8 146.3L1024.7 145.8L1026.7 145.3L1028.6 144.8L1030.5 144.4L1032.5 144.1L1034.5 143.7L1036.5 143.5L1038.5 143.2L1040.5 143.0L1042.5 142.9L1044.5 142.7L1046.5 142.7L1048.5 142.6L1050.5 142.6L1052.5 142.7L1054.5 142.7L1056.5 142.9L1058.5 143.0L1060.5 143.2L1062.5 143.5L1064.5 143.8L1066.5 144.1L1068.4 144.5L1070.4 144.9L1072.3 145.4L1074.2 145.9L1076.2 146.4L1078.1 147.0L1079.9 147.6L1081.8 148.3L1083.7 149.0L1085.5 149.7L1087.4 150.5L1089.2 151.2L1091.0 152.1L1092.8 152.9L1094.6 153.8L1096.4 154.7L1098.2 155.6L1100.0 156.6L1101.8 157.5L1103.5 158.5L1105.3 159.5L1107.0 160.5L1108.8 161.6L1110.5 162.6L1112.2 163.7L1113.9 164.8L1115.6 165.9L1117.4 167.0L1119.1 168.1L1120.8 169.2L1122.4 170.3L1124.1 171.4L1125.8 172.6L1127.5 173.7L1129.2 174.8L1130.9 176.0L1132.5 177.1L1134.2 178.2L1135.9 179.4L1137.5 180.5L1139.2 181.7L1140.8 182.8L1142.5 184.0L1144.1 185.2L1145.8 186.3L1147.4 187.5L1149.1 188.7L1150.7 189.8L1152.3 191.0L1154.0 192.2L1155.6 193.4L1157.2 194.5L1158.8 195.7L1160.4 196.9L1162.1 198.1L1163.7 199.3L1165.3 200.5L1166.9 201.7L1168.5 202.9L1170.1 204.1L1171.7 205.3L1173.3 206.5L1174.9 207.7L1176.5 208.9L1178.0 210.2L1179.6 211.4L1181.2 212.6L1182.8 213.8L1184.4 215.0L1185.9 216.3L1187.5 217.5L1189.1 218.7L1190.7 220.0L1192.2 221.2L1193.8 222.4L1195.3 223.7L1196.9 224.9L1198.5 226.2L1200.0 227.4L1201.6 228.7L1203.1 229.9L1204.7 231.2L1206.2 232.4L1207.8 233.7L1209.3 235.0L1210.8 236.2L1212.4 237.5L1213.9 238.8L1215.5 240.0L1217.0 241.3L1218.5 242.6L1220.1 243.9L1221.6 245.1L1223.1 246.4L1224.7 247.7L1226.2 249.0L1227.7 250.3L1229.2 251.5L1230.8 252.8L1232.3 254.1L1233.8 255.4L1235.3 256.7L1236.9 258.0L1238.4 259.3L1239.9 260.6L1241.4 261.9L1242.9 263.2L1244.4 264.5L1246.0 265.8L1247.5 267.1L1249.0 268.4L1250.5 269.7L1252.0 271.0L1253.5 272.3L1255.0 273.7L1256.5 275.0L1258.0 276.3L1259.6 277.6L1261.1 278.9L1262.6 280.2L1264.1 281.6L1265.6 282.9L1267.1 284.2L1268.6 285.5L1270.1 286.8L1271.6 288.2L1273.1 289.5L1274.7 290.8L1276.2 292.1L1277.7 293.4L1279.2 294.7L1280.7 296.1L1282.2 297.4L1283.8 298.7L1285.3 300.0L1286.8 301.3L1288.4 302.6L1289.9 303.9L1291.4 305.2L1293.0 306.4L1294.5 307.7L1296.1 309.0L1297.6 310.3L1299.2 311.5L1300.7 312.8L1302.3 314.0L1303.9 315.3L1305.4 316.5L1307.0 317.8L1308.6 319.0L1310.2 320.2L1311.8 321.4L1313.4 322.6L1315.0 323.8L1316.6 325.0L1318.2 326.2L1319.8 327.4L1321.5 328.5L1323.1 329.7L1324.8 330.8L1326.4 331.9L1328.1 333.1L1329.7 334.2L1331.4 335.3L1333.1 336.4L1334.8 337.5L1336.5 338.5L1338.2 339.6L1339.9 340.7L1341.6 341.7L1343.3 342.8L1345.0 343.8L1346.7 344.8L1348.4 345.9L1350.2 346.9L1351.9 347.9L1353.6 348.9L1355.4 349.9L1357.1 350.9L1358.9 351.9L1360.6 352.9L1362.4 353.9L1364.1 354.8L1365.9 355.8L1367.6 356.8L1369.4 357.8L1371.2 358.7L1372.9 359.7L1374.7 360.7L1376.4 361.7L1378.2 362.6L1379.9 363.6L1381.7 364.6L1383.5 365.5L1385.2 366.5L1387.0 367.5L1388.7 368.4L1390.5 369.4L1392.2 370.4L1394.0 371.3L1395.8 372.3L1397.5 373.2L1399.3 374.2L1401.0 375.1L1402.8 376.1L1404.5 377.1L1406.3 378.0L1408.1 379.0L1409.8 379.9L1411.6 380.9L1413.4 381.8L1415.1 382.7L1416.9 383.7L1418.7 384.6L1420.4 385.5L1422.2 386.5L1424.0 387.4L1425.7 388.3L1427.5 389.3L1429.3 390.2L1431.1 391.1L1432.9 392.0L1434.6 392.9L1436.4 393.8L1438.2 394.7L1440.0 395.6L1441.8 396.5L1443.6 397.4L1445.4 398.3L1447.2 399.2L1449.0 400.0L1450.8 400.9L1452.6 401.8L1454.4 402.6L1456.2 403.5L1458.0 404.3L1459.8 405.2L1461.7 406.0L1463.5 406.9L1465.3 407.7L1467.2 408.5L1469.0 409.3L1470.8 410.2L1472.7 411.0L1474.5 411.8L1476.4 412.6L1481.1 424.2L1483.0 424.9L1484.8 425.7L1486.7 426.4L1488.6 427.1L1490.5 427.8L1492.4 428.6L1494.3 429.3L1496.1 430.0L1498.0 430.7L1499.9 431.4L1501.8 432.1L1503.7 432.8L1505.6 433.5L1507.5 434.2L1509.4 434.9L1511.3 435.6L1513.2 436.3L1515.1 437.0L1517.0 437.7L1518.9 438.4L1520.8 439.1L1522.7 439.8L1524.6 440.4L1526.5 441.1L1528.4 441.8L1530.3 442.5L1532.2 443.1L1534.1 443.8L1536.0 444.4L1537.9 445.1L1539.8 445.8L1541.7 446.4L1543.6 447.1L1545.5 447.7L1547.4 448.4L1549.4 449.0L1551.3 449.6L1553.2 450.3L1555.1 450.9L1557.0 451.5L1558.9 452.2L1560.8 452.8L1562.8 453.4L1564.7 454.0L1566.6 454.6L1568.5 455.3L1570.5 455.9L1572.4 456.5L1574.3 457.1L1576.2 457.7L1578.1 458.3L1580.1 458.9L1582.0 459.5L1583.9 460.1L1585.9 460.7L1587.8 461.2L1589.7 461.8L1591.7 462.4L1593.6 463.0L1595.5 463.6L1597.5 464.1L1599.4 464.7L1601.3 465.3L1603.3 465.8L1605.2 466.4L1607.1 467.0L1609.1 467.5L1611.0 468.1L1613.0 468.6L1614.9 469.2L1616.8 469.7L1618.8 470.2L1620.7 470.8L1622.7 471.3L1624.6 471.8L1626.6 472.4L1628.5 472.9L1630.5 473.4L1632.4 474.0L1634.3 474.5L1636.3 475.0L1638.2 475.5L1640.2 476.0L1642.2 476.5L1644.1 477.0L1646.1 477.5L1648.0 478.0L1650.0 478.5L1651.9 479.0L1653.9 479.5L1655.8 480.0L1657.8 480.5L1659.7 481.0L1661.7 481.4L1663.7 481.9L1665.6 482.4L1667.6 482.9L1669.5 483.3L1671.5 483.8L1673.5 484.3L1675.4 484.7L1677.4 485.2L1679.4 485.6L1681.3 486.1L1683.3 486.5L1685.3 487.0L1687.2 487.4L1689.2 487.8L1691.2 488.3L1693.1 488.7L1695.1 489.1L1697.1 489.6L1699.1 490.0L1701.0 490.4L1703.0 490.8L1705.0 491.3L1706.9 491.7L1708.9 492.1L1710.9 492.5L1712.9 492.9L1714.8 493.3L1716.8 493.7L1718.8 494.1L1720.8 494.5L1722.8 494.9L1724.7 495.3L1726.7 495.6L1728.7 496.0L1730.7 496.4L1732.7 496.8L1734.6 497.2L1736.6 497.5L1738.6 497.9L1740.6 498.3L1742.6 498.6L1744.6 499.0L1746.5 499.3L1748.5 499.7L1750.5 500.0L1752.5 500.4L1754.5 500.7L1756.5 501.1L1758.5 501.4L1760.4 501.7L1762.4 502.1L1764.4 502.4L1766.4 502.7L1768.4 503.0L1770.4 503.4L1772.4 503.7L1774.4 504.0L1776.4 504.3L1778.4 504.6L1780.4 504.9L1782.4 505.2L1784.4 505.5L1786.3 505.8L1788.3 506.1L1790.3 506.4L1792.3 506.7L1794.3 507.0L1796.3 507.3L1798.3 507.5L1800.3 507.8L1802.3 508.1L1804.3 508.4L1806.3 508.6L1808.3 508.9L1810.3 509.2L1812.3 509.4L1814.3 509.7L1816.3 509.9L1818.3 510.2L1820.3 510.4L1822.3 510.7L1824.3 510.9L1826.3 511.1L1828.3 511.4L1830.3 511.6L1832.4 511.8L1834.4 512.1L1836.4 512.3L1838.4 512.5L1840.4 512.7L1842.4 512.9L1844.4 513.1L1846.4 513.3L1848.4 513.5L1850.4 513.8L1852.4 513.9L1854.4 514.1L1856.4 514.3L1858.4 514.5L1860.5 514.7L1862.5 514.9L1864.5 515.1L1866.5 515.3L1868.5 515.4L1870.5 515.6L1872.5 515.8L1874.5 515.9L1876.5 516.1L1878.6 516.3L1880.6 516.4L1882.6 516.6L1884.6 516.7L1886.6 516.9L1888.6 517.0" stroke="#0000ff" stroke-width="7.0"/>
<path d="M268.0 1246.5L506.0 1245.7L508.3 1245.8L510.6 1245.8L512.8 1245.8L515.0 1245.7L517.2 1245.5L519.3 1245.2L521.4 1244.9L523.4 1244.6L525.4 1244.1L527.4 1243.7L529.4 1243.1L531.3 1242.5L533.1 1241.9L535.0 1241.1L536.8 1240.4L538.6 1239.6L540.3 1238.7L542.0 1237.8L543.7 1236.8L545.3 1235.8L546.9 1234.8L548.5 1233.7L550.1 1232.6L551.6 1231.4L553.1 1230.2L554.6 1228.9L556.0 1227.6L557.4 1226.3L558.8 1224.9L560.2 1223.5L561.5 1222.1L562.8 1220.6L564.1 1219.1L565.3 1217.6L566.6 1216.1L567.8 1214.5L569.0 1212.9L570.1 1211.3L571.3 1209.6L572.4 1207.9L573.5 1206.3L574.6 1204.6L575.7 1202.8L576.7 1201.1L577.7 1199.3L578.7 1197.6L579.7 1195.8L580.7 1194.0L581.6 1192.2L582.6 1190.4L583.5 1188.6L584.4 1186.7L585.3 1184.9L586.2 1183.1L587.0 1181.2L587.9 1179.4L588.7 1177.5L589.5 1175.7L590.3 1173.8L591.1 1172.0L591.9 1170.1L592.7 1168.3L593.4 1166.4L594.2 1164.5L594.9 1162.6L595.6 1160.8L596.3 1158.9L597.1 1157.0L597.8 1155.1L598.5 1153.3L599.1 1151.4L599.8 1149.5L600.5 1147.6L601.1 1145.7L601.8 1143.8L602.5 1141.9L603.1 1140.0L603.7 1138.1L604.4 1136.2L605.0 1134.3L605.7 1132.4L606.3 1130.5L606.9 1128.6L607.5 1126.7L608.1 1124.8L608.8 1122.9L609.4 1121.0L610.0 1119.1L610.6 1117.2L611.2 1115.3L611.8 1113.4L612.5 1111.5L613.1 1109.6L613.7 1107.7L614.3 1105.8L614.9 1103.9L615.6 1102.0L616.2 1100.1L616.8 1098.2L617.5 1096.3L618.1 1094.4L618.8 1092.6L619.4 1090.7L620.1 1088.8L620.7 1086.9L621.4 1085.0L622.1 1083.2L622.8 1081.3L623.5 1079.4L624.2 1077.5L624.9 1075.7L625.6 1073.8L626.3 1072.0L627.1 1070.1L627.8 1068.3L628.6 1066.4L629.3 1064.6L630.1 1062.7L630.9 1060.9L631.7 1059.0L632.5 1057.2L633.3 1055.4L634.1 1053.5L634.9 1051.7L635.7 1049.9L636.5 1048.1L637.3 1046.2L638.2 1044.4L639.0 1042.6L639.9 1040.8L640.7 1039.0L641.5 1037.1L642.4 1035.3L643.2 1033.5L644.1 1031.7L645.0 1029.9L645.8 1028.1L646.7 1026.3L647.5 1024.4L648.4 1022.6L649.3 1020.8L650.1 1019.0L651.0 1017.2L651.9 1015.4L652.7 1013.6L653.6 1011.8L654.5 1009.9L655.3 1008.1L656.2 1006.3L657.0 1004.5L657.9 1002.7L658.7 1000.9L659.6 999.0L660.4 997.2L661.2 995.4L662.1 993.6L662.9 991.7L663.7 989.9L664.5 988.1L665.4 986.2L666.2 984.4L667.0 982.6L667.8 980.7L668.5 978.9L669.3 977.0L670.1 975.2L670.9 973.3L671.6 971.5L672.4 969.6L673.1 967.8L673.8 965.9L674.5 964.0L675.3 962.2L676.0 960.3L676.6 958.4L677.3 956.5L678.0 954.7L678.7 952.8L679.3 950.9L680.0 949.0L680.6 947.1L681.2 945.2L681.9 943.3L682.5 941.4L683.1 939.5L683.7 937.6L684.3 935.6L684.9 933.7L685.5 931.8L686.0 929.9L686.6 928.0L687.2 926.0L687.7 924.1L688.2 922.2L688.8 920.3L689.3 918.3L689.8 916.4L690.4 914.4L690.9 912.5L691.4 910.6L691.9 908.6L692.4 906.7L692.8 904.7L693.3 902.8L693.8 900.8L694.3 898.9L694.7 896.9L695.2 895.0L695.6 893.0L696.1 891.0L696.5 889.1L697.0 887.1L697.4 885.2L697.8 883.2L698.2 881.2L698.7 879.3L699.1 877.3L699.5 875.3L699.9 873.4L700.3 871.4L700.7 869.4L701.1 867.4L701.5 865.5L701.9 863.5L702.2 861.5L702.6 859.6L703.0 857.6L703.4 855.6L703.7 853.6L704.1 851.7L704.5 849.7L704.8 847.7L705.2 845.7L705.5 843.7L705.9 841.8L706.2 839.8L706.6 837.8L706.9 835.8L707.3 833.9L707.6 831.9L707.9 829.9L708.3 827.9L708.6 826.0L708.9 824.0L709.3 822.0L709.6 820.0L709.9 818.1L710.2 816.1L710.6 814.1L710.9 812.1L711.2 810.2L711.5 808.2L711.8 806.2L712.2 804.2L712.5 802.3L712.8 800.3L713.1 798.3L713.4 796.3L713.7 794.4L714.0 792.4L714.3 790.4L714.6 788.4L714.9 786.5L715.2 784.5L715.5 782.5L715.8 780.6L716.1 778.6L716.4 776.6L716.7 774.6L717.0 772.7L717.3 770.7L717.6 768.7L717.9 766.7L718.2 764.8L718.5 762.8L718.8 760.8L719.0 758.9L719.3 756.9L719.6 754.9L719.9 752.9L720.2 751.0L720.5 749.0L720.7 747.0L721.0 745.1L721.3 743.1L721.6 741.1L721.9 739.1L722.1 737.2L722.4 735.2L722.7 733.2L723.0 731.2L723.2 729.3L723.5 727.3L723.8 725.3L724.0 723.3L724.3 721.4L724.6 719.4L724.9 717.4L725.1 715.4L725.4 713.5L725.7 711.5L725.9 709.5L726.2 707.5L726.5 705.6L726.7 703.6L727.0 701.6L727.3 699.6L727.5 697.7L727.8 695.7L728.1 693.7L728.3 691.7L728.6 689.8L728.9 687.8L729.1 685.8L729.4 683.8L729.7 681.8L729.9 679.9L730.2 677.9L730.5 675.9L730.7 673.9L731.0 671.9L731.2 670.0L731.5 668.0L731.8 666.0L732.0 664.0L732.3 662.0L732.6 660.1L732.8 658.1L733.1 656.1L733.4 654.1L733.6 652.1L733.9 650.1L734.2 648.2L734.4 646.2L734.7 644.2L735.0 642.2L735.2 640.2L735.5 638.2L735.8 636.2L736.1 634.2L736.3 632.3L736.6 630.3L736.9 628.3L737.1 626.3L737.4 624.3L737.7 622.3L738.0 620.3L738.2 618.3L738.5 616.3L738.8 614.3L739.1 612.3L739.3 610.3L739.6 608.3L739.9 606.3L740.2 604.3L740.5 602.3L740.7 600.3L741.0 598.3L741.3 596.3L741.6 594.3L741.9 592.3L742.2 590.3L742.5 588.3L742.7 586.3L743.0 584.3L743.3 582.3L743.6 580.3L743.9 578.3L744.2 576.3L744.5 574.3L744.8 572.3L745.1 570.3L745.4 568.3L745.7 566.3L746.0 564.3L746.3 562.2L746.6 560.2L746.9 558.2L747.2 556.2L747.5 554.2L747.8 552.2L748.2 550.2L748.5 548.1L748.8 546.1L749.1 544.1L749.4 542.1L749.7 540.1L750.1 538.0L750.4 536.0L750.7 534.0L751.0 532.0L751.4 529.9L751.7 527.9L752.0 525.9L752.4 523.9L752.7 521.8L753.1 519.8L753.4 517.8L753.8 515.8L754.2 513.8L754.6 511.8L755.1 509.8L755.6 507.9L756.1 506.0L756.6 504.0L757.2 502.2L757.8 500.3L758.5 498.4L759.2 496.6L760.0 494.8L760.8 493.1L761.7 491.3L762.6 489.7L763.6 488.0L764.7 486.4L765.8 484.8L767.0 483.3L768.3 481.9L769.6 480.5L771.0 479.3L772.4 478.3L773.8 477.4L775.2 476.8L776.7 476.4L778.2 476.2L779.6 476.3L781.1 476.7L782.5 477.3L784.0 478.1L785.4 479.2L786.7 480.4L788.0 481.7L789.3 483.2L790.5 484.9L791.6 486.6L792.7 488.5L793.7 490.4L794.6 492.4L795.5 494.4L796.3 496.5L797.1 498.6L797.8 500.8L798.5 502.9L799.2 505.1L799.9 507.2L800.6 509.3L801.2 511.4L801.9 513.4L802.6 515.4L803.2 517.3L803.9 519.3L804.6 521.2L805.3 523.1L806.0 524.9L806.7 526.8L807.4 528.6L808.1 530.4L808.8 532.2L809.5 534.0L810.2 535.8L810.9 537.6L811.7 539.3L812.4 541.1L813.1 542.8L813.9 544.6L814.7 546.4L815.4 548.1L816.2 549.9L817.0 551.7L817.8 553.5L818.6 555.2L819.5 557.0L820.3 558.8L821.1 560.7L821.9 562.5L822.7 564.3L823.5 566.1L824.3 568.0L825.1 569.8L825.9 571.7L826.7 573.6L827.4 575.4L828.2 577.3L828.9 579.2L829.7 581.1L830.4 583.0L831.1 584.9L831.9 586.8L832.7 588.7L833.5 590.5L834.3 592.4L835.1 594.2L836.0 596.0L836.9 597.8L837.8 599.6L838.8 601.3L839.8 603.1L840.9 604.7L842.0 606.4L843.2 608.0L844.5 609.6L845.8 611.1L847.1 612.6L848.6 614.0L850.1 615.4L851.7 616.7L853.4 618.0L855.1 619.2L856.9 620.3L858.7 621.4L860.5 622.4L862.4 623.2L864.3 624.0L866.3 624.7L868.2 625.3L870.1 625.7L872.0 626.1L874.0 626.3L875.8 626.3L877.7 626.3L879.5 626.1L881.3 625.7L883.0 625.2L884.7 624.5L886.4 623.7L888.0 622.8L889.5 621.8L891.1 620.6L892.5 619.4L894.0 618.1L895.4 616.7L896.8 615.2L898.2 613.7L899.5 612.1L900.8 610.5L902.1 608.9L903.4 607.2L904.6 605.6L905.9 603.9L907.1 602.2L908.3 600.6L909.5 598.9L910.6 597.2L911.8 595.5L912.9 593.8L914.1 592.1L915.2 590.4L916.3 588.7L917.3 586.9L918.4 585.2L919.4 583.5L920.5 581.7L921.5 580.0L922.5 578.2L923.5 576.5L924.5 574.7L925.5 573.0L926.4 571.2L927.4 569.4L928.3 567.6L929.2 565.9L930.1 564.1L931.0 562.3L931.9 560.5L932.8 558.7L933.6 556.9L934.5 555.1L935.3 553.3L936.2 551.5L937.0 549.6L937.8 547.8L938.6 546.0L939.4 544.2L940.2 542.3L941.0 540.5L941.8 538.7L942.6 536.8L943.3 535.0L944.1 533.1L944.8 531.3L945.6 529.4L946.3 527.6L947.0 525.7L947.8 523.9L948.5 522.0L949.2 520.2L949.9 518.3L950.6 516.4L951.3 514.6L952.0 512.7L952.7 510.8L953.4 509.0L954.0 507.1L954.7 505.2L955.4 503.3L956.1 501.5L956.8 499.6L957.4 497.7L958.1 495.8L958.8 494.0L959.4 492.1L960.1 490.2L960.7 488.3L961.4 486.4L962.1 484.6L962.7 482.7L963.4 480.8L964.1 478.9L964.7 477.0L965.4 475.2L966.0 473.3L966.7 471.4L967.4 469.5L968.0 467.6L968.7 465.8L969.4 463.9L970.1 462.0L970.7 460.1L971.4 458.2L972.1 456.4L972.7 454.5L973.4 452.6L974.1 450.7L974.8 448.9L975.4 447.0L976.1 445.1L976.8 443.2L977.5 441.4L978.2 439.5L978.8 437.6L979.5 435.7L980.2 433.9L980.9 432.0L981.6 430.1L982.3 428.2L983.0 426.4L983.7 424.5L984.4 422.6L985.1 420.7L985.8 418.9L986.4 417.0L987.1 415.1L987.8 413.3L988.6 411.4L989.3 409.5L990.0 407.6L990.7 405.8L991.4 403.9L992.1 402.0L992.8 400.2L993.5 398.3L994.2 396.4L994.9 394.6L995.7 392.7L996.4 390.8L997.1 389.0L997.8 387.1L998.5 385.2L999.3 383.4L1000.0 381.5L1000.7 379.6L1001.5 377.8L1002.2 375.9L1002.9 374.0L1003.7 372.2L1004.4 370.3L1005.2 368.4L1005.9 366.6L1006.6 364.7L1007.4 362.8L1008.1 361.0L1008.9 359.1L1009.6 357.3L1010.4 355.4L1011.2 353.5L1011.9 351.7L1012.7 349.8L1013.4 347.9L1014.2 346.1L1015.0 344.2L1015.8 342.4L1016.5 340.5L1017.3 338.7L1018.1 336.8L1018.9 334.9L1019.6 333.1L1020.4 331.2L1021.2 329.4L1022.0 327.5L1022.8 325.6L1023.6 323.8L1024.4 321.9L1025.2 320.1L1026.0 318.3L1026.8 316.4L1027.7 314.6L1028.5 312.7L1029.4 310.9L1030.2 309.1L1031.1 307.3L1032.0 305.5L1032.9 303.7L1033.8 301.9L1034.8 300.2L1035.7 298.4L1036.7 296.7L1037.7 295.0L1038.7 293.2L1039.8 291.5L1040.8 289.9L1041.9 288.2L1043.0 286.5L1044.1 284.9L1045.3 283.3L1046.5 281.7L1047.7 280.1L1048.9 278.6L1050.2 277.0L1051.5 275.5L1052.8 274.0L1054.2 272.5L1055.6 271.1L1057.0 269.7L1058.5 268.3L1060.0 266.9L1061.6 265.6L1063.1 264.3L1064.8 263.1L1066.4 262.0L1068.1 260.9L1069.8 259.9L1071.5 259.0L1073.3 258.1L1075.1 257.4L1076.9 256.8L1078.8 256.3L1080.7 255.9L1082.6 255.6L1084.5 255.4L1086.5 255.4L1088.5 255.5L1090.5 255.7L1092.4 256.0L1094.4 256.3L1096.4 256.8L1098.4 257.4L1100.3 258.0L1102.3 258.7L1104.2 259.5L1106.1 260.4L1107.9 261.3L1109.7 262.3L1111.5 263.4L1113.2 264.5L1114.8 265.6L1116.5 266.8L1118.0 268.1L1119.6 269.3L1121.1 270.6L1122.5 272.0L1124.0 273.4L1125.4 274.8L1126.8 276.2L1128.1 277.6L1129.4 279.1L1130.8 280.6L1132.0 282.1L1133.3 283.7L1134.6 285.2L1135.9 286.8L1137.1 288.3L1138.3 289.9L1139.6 291.4L1140.8 293.0L1142.0 294.6L1143.2 296.2L1144.4 297.8L1145.6 299.4L1146.8 301.0L1148.0 302.6L1149.1 304.2L1150.3 305.9L1151.5 307.5L1152.6 309.1L1153.8 310.8L1154.9 312.4L1156.0 314.1L1157.2 315.8L1158.3 317.4L1159.4 319.1L1160.5 320.8L1161.6 322.4L1162.7 324.1L1163.8 325.8L1164.9 327.5L1166.0 329.2L1167.0 330.9L1168.1 332.6L1169.2 334.3L1170.3 336.0L1171.3 337.7L1172.4 339.4L1173.5 341.1L1174.5 342.8L1175.6 344.5L1176.6 346.2L1177.7 348.0L1178.7 349.7L1179.8 351.4L1180.8 353.1L1181.8 354.8L1182.9 356.6L1183.9 358.3L1185.0 360.0L1186.0 361.7L1187.0 363.5L1188.1 365.2L1189.1 366.9L1190.1 368.6L1191.2 370.3L1192.2 372.1L1193.3 373.8L1194.3 375.5L1195.3 377.2L1196.4 378.9L1197.4 380.6L1198.5 382.4L1199.5 384.1L1200.5 385.8L1201.6 387.5L1202.6 389.2L1203.7 390.9L1204.8 392.6L1205.8 394.3L1206.9 396.0L1207.9 397.6L1209.0 399.3L1210.1 401.0L1211.1 402.7L1212.2 404.4L1213.3 406.1L1214.4 407.7L1215.5 409.4L1216.5 411.1L1217.6 412.7L1218.7 414.4L1219.8 416.0L1220.9 417.7L1222.0 419.4L1223.2 421.0L1224.3 422.7L1225.4 424.3L1226.5 425.9L1227.6 427.6L1228.8 429.2L1229.9 430.8L1231.1 432.5L1232.2 434.1L1233.4 435.7L1234.5 437.3L1235.7 438.9L1236.9 440.5L1238.1 442.1L1239.2 443.8L1240.4 445.3L1241.6 446.9L1242.8 448.5L1244.0 450.1L1245.3 451.7L1246.5 453.3L1247.7 454.9L1248.9 456.4L1250.2 458.0L1251.4 459.6L1252.7 461.1L1254.0 462.7L1255.2 464.2L1256.5 465.8L1257.8 467.3L1259.1 468.9L1260.4 470.4L1261.7 471.9L1263.0 473.5L1264.4 475.0L1265.7 476.5L1267.0 478.0L1268.4 479.5L1269.7 481.0L1271.1 482.5L1272.5 484.0L1273.8 485.5L1275.2 487.0L1276.6 488.4L1278.0 489.9L1279.4 491.4L1280.8 492.8L1282.3 494.3L1283.7 495.7L1285.1 497.1L1286.6 498.5L1288.0 500.0L1289.5 501.4L1291.0 502.8L1292.4 504.1L1293.9 505.5L1295.4 506.9L1296.9 508.3L1298.4 509.6L1299.9 511.0L1301.4 512.3L1302.9 513.6L1304.5 515.0L1306.0 516.3L1307.5 517.6L1309.1 518.8L1310.7 520.1L1312.2 521.4L1313.8 522.7L1315.4 523.9L1317.0 525.1L1318.5 526.4L1320.1 527.6L1321.8 528.8L1323.4 530.0L1325.0 531.2L1326.6 532.3L1328.2 533.5L1329.9 534.6L1331.5 535.8L1333.2 536.9L1334.8 538.0L1336.5 539.1L1338.2 540.2L1339.9 541.2L1341.6 542.3L1343.3 543.4L1345.0 544.4L1346.7 545.4L1348.4 546.4L1350.1 547.4L1351.8 548.4L1353.6 549.3L1355.3 550.3L1357.0 551.2L1358.8 552.1L1360.6 553.0L1362.3 553.9L1364.1 554.8L1365.9 555.7L1367.7 556.5L1369.5 557.3L1371.3 558.1L1373.1 558.9L1374.9 559.7L1376.7 560.5L1378.5 561.2L1380.3 561.9L1382.2 562.7L1384.0 563.3L1385.9 564.0L1387.7 564.7L1389.6 565.3L1391.5 566.0L1393.3 566.6L1395.2 567.2L1397.1 567.7L1399.0 568.3L1400.9 568.8L1402.8 569.3L1404.7 569.8L1406.6 570.3L1408.6 570.8L1410.5 571.2L1412.4 571.6L1414.4 572.0L1416.3 572.4L1418.3 572.8L1420.2 573.1L1422.2 573.5L1424.2 573.8L1426.1 574.0L1428.1 574.3L1430.1 574.5L1432.1 574.8L1434.1 575.0L1436.1 575.1L1438.1 575.3L1440.1 575.4L1442.2 575.5L1444.2 575.6L1446.2 575.7L1448.3 575.8L1450.3 575.8L1452.4 575.8L1454.4 575.8L1456.5 575.7L1458.6 575.7L1460.6 575.6L1462.7 575.5L1464.8 575.3L1466.9 575.2L1469.0 575.0L1471.1 574.8L1473.2 574.5L1475.3 574.3L1477.5 574.0L1479.6 573.7L1480.6 581.7L1482.7 581.4L1484.7 581.0L1486.7 580.6L1488.8 580.2L1490.8 579.8L1492.8 579.4L1494.8 579.0L1496.8 578.6L1498.9 578.2L1500.9 577.7L1502.9 577.3L1504.8 576.8L1506.8 576.3L1508.8 575.9L1510.8 575.4L1512.8 574.9L1514.7 574.4L1516.7 573.8L1518.7 573.3L1520.6 572.8L1522.6 572.2L1524.5 571.7L1526.5 571.1L1528.4 570.5L1530.4 570.0L1532.3 569.4L1534.2 568.8L1536.2 568.2L1538.1 567.6L1540.0 566.9L1541.9 566.3L1543.8 565.7L1545.7 565.0L1547.7 564.4L1549.6 563.7L1551.4 563.0L1553.3 562.4L1555.2 561.7L1557.1 561.0L1559.0 560.3L1560.9 559.6L1562.8 558.9L1564.6 558.1L1566.5 557.4L1568.4 556.7L1570.2 555.9L1572.1 555.2L1573.9 554.4L1575.8 553.6L1577.6 552.9L1579.5 552.1L1581.3 551.3L1583.1 550.5L1585.0 549.7L1586.8 548.9L1588.6 548.1L1590.5 547.2L1592.3 546.4L1594.1 545.6L1595.9 544.7L1597.7 543.9L1599.5 543.0L1601.3 542.2L1603.1 541.3L1604.9 540.4L1606.7 539.6L1608.5 538.7L1610.3 537.8L1612.1 536.9L1613.9 536.0L1615.7 535.1L1617.5 534.2L1619.2 533.2L1621.0 532.3L1622.8 531.4L1624.6 530.4L1626.3 529.5L1628.1 528.5L1629.9 527.6L1631.6 526.6L1633.4 525.7L1635.1 524.7L1636.9 523.7L1638.6 522.8L1640.4 521.8L1642.1 520.8L1643.9 519.8L1645.6 518.8L1647.3 517.8L1649.1 516.8L1650.8 515.8L1652.5 514.8L1654.3 513.7L1656.0 512.7L1657.7 511.7L1659.5 510.6L1661.2 509.6L1662.9 508.6L1664.6 507.5L1666.3 506.5L1668.0 505.4L1669.8 504.4L1671.5 503.3L1673.2 502.2L1674.9 501.2L1676.6 500.1L1678.3 499.0L1680.0 497.9L1681.7 496.9L1683.4 495.8L1685.1 494.7L1686.8 493.6L1688.5 492.5L1690.1 491.4L1691.8 490.3L1693.5 489.2L1695.2 488.1L1696.9 487.0L1698.6 485.9L1700.3 484.7L1701.9 483.6L1703.6 482.5L1705.3 481.4L1707.0 480.3L1708.6 479.1L1710.3 478.0L1712.0 476.9L1713.7 475.7L1715.3 474.6L1717.0 473.4L1718.7 472.3L1720.3 471.2L1722.0 470.0L1723.7 468.9L1725.3 467.7L1727.0 466.6L1728.7 465.4L1730.3 464.3L1732.0 463.1L1733.6 461.9L1735.3 460.8L1737.0 459.6L1738.6 458.5L1740.3 457.3L1741.9 456.1L1743.6 455.0L1745.2 453.8L1746.9 452.6L1748.5 451.5L1750.2 450.3L1751.8 449.1L1753.5 448.0L1755.2 446.8L1756.8 445.6L1758.5 444.4L1760.1 443.3L1761.8 442.1L1763.4 440.9L1765.0 439.8L1766.7 438.6L1768.3 437.4L1770.0 436.2L1771.6 435.1L1773.3 433.9L1774.9 432.7L1776.6 431.5L1778.2 430.4L1779.9 429.2L1781.5 428.0L1783.2 426.8L1784.8 425.7L1786.5 424.5L1788.1 423.3L1789.8 422.2L1791.4 421.0L1793.0 419.8L1794.7 418.6L1796.3 417.5L1798.0 416.3L1799.6 415.1L1801.3 414.0L1802.9 412.8L1804.6 411.6L1806.2 410.5L1807.9 409.3L1809.5 408.2L1811.2 407.0L1812.8 405.9L1814.5 404.7L1816.1 403.5L1817.8 402.4L1819.4 401.2L1821.1 400.1L1822.8 399.0L1824.4 397.8L1826.1 396.7L1827.7 395.5L1829.4 394.4L1831.0 393.3L1832.7 392.1L1834.4 391.0L1836.0 389.9L1837.7 388.7L1839.3 387.6L1841.0 386.5L1842.7 385.4L1844.3 384.3L1846.0 383.1L1847.7 382.0L1849.3 380.9L1851.0 379.8L1852.7 378.7L1854.4 377.6L1856.0 376.5L1857.7 375.4L1859.4 374.3L1861.1 373.3L1862.7 372.2L1864.4 371.1L1866.1 370.0L1867.8 368.9L1869.5 367.9L1871.1 366.8L1872.8 365.8L1874.5 364.7L1876.2 363.6L1877.9 362.6L1879.6 361.5L1881.3 360.5L1883.0 359.5L1884.7 358.4L1886.4 357.4L1888.1 356.4" stroke="#000000" stroke-width="7.0"/>
<path d="M269.9 339.4L270.8 338.2L271.3 336.4L271.5 334.4L271.4 332.2L271.1 330.1L270.8 327.9L270.6 325.7L270.6 323.7L270.8 321.7L270.9 321.3M278.1 311.2L278.6 310.5L279.5 308.8L279.9 308.0M284.8 291.0L285.1 289.6L285.4 288.0M289.2 271.5L289.5 270.0L290.0 268.1L290.5 266.1L290.9 264.2L291.4 262.3L291.8 260.3L292.3 258.4L292.7 256.4L293.2 254.4L293.4 253.4M297.4 236.6L297.8 234.9L298.2 233.4M303.3 216.4L303.5 215.7L304.2 213.8L304.3 213.4M311.7 197.1L312.6 195.7L313.7 194.0L314.9 192.4L316.2 190.9L317.6 189.4L319.1 188.1L320.8 186.8L322.5 185.7L324.3 184.9L326.1 184.3L328.0 184.2L328.1 184.2M344.9 191.3L346.8 191.8L348.1 192.0M364.7 182.5L365.0 182.2L366.2 180.6L367.0 179.5M379.0 161.5L379.3 161.2M380.9 159.2L381.0 159.1L382.3 157.6L383.7 156.2L385.2 154.9L386.7 153.6L388.4 152.5L390.1 151.4L391.8 150.5L393.7 149.7L395.5 149.0L397.5 148.5L398.8 148.1M415.6 144.6L417.0 144.3L418.8 144.1M435.8 142.5L436.9 142.5L438.8 142.4M456.8 141.8L457.0 141.8L458.8 141.7M458.8 141.7L459.0 141.7L461.0 141.6L463.0 141.6L465.0 141.5L467.0 141.4L469.0 141.3L471.0 141.2L473.0 141.1L473.4 141.1M483.4 140.6L485.1 140.5L486.6 140.4M505.4 139.3L507.1 139.2L509.1 139.1L511.1 139.0L513.1 138.9L515.1 138.8L517.1 138.7L519.1 138.6L521.1 138.5L523.1 138.4L523.5 138.3M540.3 137.5L541.1 137.5L543.1 137.4L543.5 137.4M560.5 136.7L561.1 136.7L563.1 136.6L563.5 136.6M581.4 136.0L583.1 135.9L585.1 135.9L587.1 135.8L589.1 135.8L591.1 135.7L593.2 135.7L595.2 135.6L597.2 135.5L599.2 135.5L599.5 135.5M616.3 135.1L617.2 135.0L619.2 135.0L619.5 135.0M636.5 134.6L637.2 134.6L639.2 134.6L639.5 134.6M657.4 134.2L659.3 134.2L661.3 134.2L663.3 134.1L665.3 134.1L667.3 134.1L669.3 134.0L671.3 134.0L673.3 134.0L675.3 133.9L675.5 133.9M692.3 133.7L693.4 133.7L695.4 133.6L695.5 133.6M712.5 133.4L713.4 133.4L715.4 133.3L715.5 133.3M733.5 133.1L735.4 133.1L737.5 133.0L739.5 133.0L741.5 133.0L743.5 132.9L745.5 132.9L747.5 132.9L749.5 132.9L751.5 132.8L751.5 132.8M768.3 132.6L769.5 132.6L771.5 132.6L771.5 132.6M788.5 132.4L789.6 132.4L791.5 132.3M809.5 132.1L809.6 132.1L811.6 132.1L813.6 132.1L815.6 132.1L817.6 132.0L819.6 132.0L821.6 132.0L823.6 132.0L825.6 132.0L827.6 131.9M844.4 131.8L845.7 131.7L847.6 131.7M864.6 131.6L865.7 131.5L867.6 131.5M885.5 131.4L885.7 131.4L887.7 131.3L889.8 131.3L891.8 131.3L893.8 131.3L895.8 131.3L897.8 131.2L899.8 131.2L901.8 131.2L903.6 131.2M920.4 131.1L921.8 131.0L923.6 131.0M940.6 130.9L941.9 130.9L943.6 130.9M961.5 130.7L961.9 130.7L963.9 130.7L965.9 130.7L967.9 130.7L969.9 130.7L971.9 130.7L973.9 130.7L975.9 130.6L977.9 130.6L979.6 130.6M996.4 130.5L998.0 130.5L999.6 130.5M1016.6 130.4L1018.0 130.4L1019.6 130.4M1037.5 130.2L1038.1 130.2L1040.1 130.2L1042.1 130.2L1044.1 130.2L1046.1 130.2L1048.1 130.2L1050.1 130.2L1052.1 130.2L1054.1 130.2L1055.6 130.1M1072.4 130.1L1074.2 130.0L1075.6 130.0M1092.6 129.9L1094.2 129.9L1095.6 129.9M1113.6 129.8L1114.3 129.8L1116.3 129.8L1118.3 129.8L1120.3 129.8L1122.3 129.8L1124.3 129.8L1126.3 129.8L1128.3 129.8L1130.3 129.8L1131.7 129.8M1148.5 129.7L1150.3 129.7L1151.7 129.7M1168.6 129.6L1170.4 129.6L1171.6 129.6M1189.6 129.5L1190.4 129.5L1192.4 129.5L1194.4 129.5L1196.4 129.5L1198.4 129.5L1200.5 129.5L1202.5 129.5L1204.5 129.5L1206.5 129.4L1207.7 129.4M1224.5 129.4L1224.5 129.4L1226.5 129.4L1227.7 129.4M1244.7 129.3L1246.6 129.3L1247.7 129.3M1265.6 129.2L1266.6 129.2L1268.6 129.2L1270.6 129.2L1272.6 129.2L1274.6 129.2L1276.6 129.2L1278.6 129.2L1280.6 129.2L1282.6 129.2L1283.7 129.2M1300.5 129.1L1300.7 129.1L1302.7 129.1L1303.7 129.1M1320.7 129.1L1320.7 129.1L1322.7 129.1L1323.7 129.1M1341.6 129.0L1342.8 129.0L1344.8 129.0L1346.8 129.0L1348.8 129.0L1350.8 129.0L1352.8 129.0L1354.8 129.0L1356.8 129.0L1358.8 129.0L1359.7 129.0M1376.5 129.0L1376.8 129.0L1378.9 128.9L1379.7 128.9M1396.7 128.9L1396.9 128.9L1398.9 128.9L1399.7 128.9M1417.7 128.9L1418.9 128.9L1420.9 128.9L1422.9 128.9L1425.0 128.9L1427.0 128.9L1429.0 128.9L1431.0 128.8L1433.0 128.8L1435.0 128.8L1435.8 128.8M1452.5 128.8L1453.0 128.8L1455.0 128.8L1455.7 128.8M1472.7 128.8L1473.1 128.8L1475.1 128.8L1475.7 128.8M1493.7 128.8L1495.1 128.8L1497.1 128.8L1499.1 128.7L1501.1 128.7L1503.1 128.7L1505.1 128.7L1507.1 128.7L1509.1 128.7L1511.1 128.7L1511.8 128.7M1528.6 128.7L1529.2 128.7L1531.2 128.7L1531.8 128.7M1548.8 128.7L1549.2 128.7L1551.2 128.7L1551.8 128.7M1569.7 128.7L1571.3 128.7L1573.3 128.7L1575.3 128.7L1577.3 128.7L1579.3 128.7L1581.3 128.7L1583.3 128.7L1585.3 128.7L1587.3 128.7L1587.8 128.7M1604.6 128.6L1605.4 128.6L1607.4 128.6L1607.8 128.6M1624.8 128.6L1625.4 128.6L1627.4 128.6L1627.8 128.6M1645.7 128.6L1647.4 128.6L1649.5 128.6L1651.5 128.6L1653.5 128.6L1655.5 128.6L1657.5 128.6L1659.5 128.6L1661.5 128.6L1663.5 128.6L1663.8 128.6M1680.6 128.6L1681.5 128.6L1683.5 128.6L1683.8 128.6M1700.8 128.6L1701.6 128.6L1703.6 128.6L1703.8 128.6M1721.8 128.6L1723.6 128.6L1725.6 128.6L1727.6 128.6L1729.6 128.6L1731.6 128.6L1733.6 128.6L1735.6 128.6L1737.7 128.6L1739.7 128.6L1739.8 128.6M1756.6 128.6L1757.7 128.6L1759.7 128.6L1759.8 128.6M1776.8 128.5L1777.7 128.5L1779.7 128.5L1779.8 128.5M1797.8 128.5L1797.8 128.5L1799.8 128.5L1801.8 128.5L1803.8 128.5L1805.8 128.5L1807.8 128.5L1809.8 128.5L1811.8 128.5L1813.8 128.5L1815.8 128.5L1815.9 128.5M1832.7 128.5L1833.9 128.5L1835.9 128.5M1852.9 128.5L1853.9 128.5L1855.9 128.5M1873.8 128.5L1874.0 128.5L1876.0 128.5L1878.0 128.5L1880.0 128.5L1882.0 128.5L1884.0 128.5L1886.0 128.5L1888.0 128.5L1890.0 128.5L1891.9 128.5" stroke="#00ffff" stroke-width="7.0"/>
</g>
<g font-size="64">
<text x="243.3" y="1264.1" text-anchor="end">0</text>
<text x="243.3" y="1144.1" text-anchor="end">10</text>
<text x="243.3" y="1024.1" text-anchor="end">20</text>
<text x="243.3" y="904.1" text-anchor="end">30</text>
<text x="243.3" y="784.1" text-anchor="end">40</text>
<text x="243.3" y="664.1" text-anchor="end">50</text>
<text x="243.3" y="544.1" text-anchor="end">60</text>
<text x="243.3" y="424.1" text-anchor="end">70</text>
<text x="243.3" y="304.1" text-anchor="end">80</text>
<text x="243.3" y="184.1" text-anchor="end">90</text>
<text x="243.3" y="65.3" text-anchor="end">100</text>
<text x="268.0" y="1333.6" text-anchor="middle">200</text>
<text x="470.6" y="1333.6" text-anchor="middle">300</text>
<text x="673.2" y="1333.6" text-anchor="middle">400</text>
<text x="875.9" y="1333.6" text-anchor="middle">500</text>
<text x="1078.5" y="1333.6" text-anchor="middle">600</text>
<text x="1281.1" y="1333.6" text-anchor="middle">700</text>
<text x="1483.8" y="1333.6" text-anchor="middle">800</text>
<text x="1686.4" y="1333.6" text-anchor="middle">900</text>
<text x="1889.0" y="1333.6" text-anchor="middle">1000</text>
</g>
<text x="1079.2" y="1445.8" font-size="70.6" text-anchor="middle">Wavelength (nm)</text>
<text transform="translate(101.3 690.2) rotate(-90)" font-size="70.3" text-anchor="middle">Transmittance (%)</text>
<g fill="none" stroke-linecap="round">
<path d="M1006.5 699.4H1150.5" stroke="#008000" stroke-width="7.0" stroke-dasharray="24.9 17.5 2.5 18.1"/>
<path d="M1006.0 800.0H1151.0" stroke="#ff0000" stroke-width="6.0" stroke-dasharray="21.9 28.2"/>
<path d="M1006.0 900.0H1151.0" stroke="#0000ff" stroke-width="6.0"/>
<path d="M1006.5 1000.5H1150.5" stroke="#000000" stroke-width="7.0"/>
<path d="M1006.5 1101.4H1150.5" stroke="#00ffff" stroke-width="7.0" stroke-dasharray="18.1 16.8 3.2 17 3 17.9"/>
</g>
<text font-size="65" y="721.2"><tspan x="1168.5">NH</tspan><tspan x="1261.4" dy="24" font-size="38">3</tspan><tspan x="1283.3" dy="-24">/O</tspan><tspan x="1351" dy="24" font-size="38">2</tspan><tspan x="1372.2" dy="-24"> =0.5</tspan></text>
<text font-size="65" y="821.8"><tspan x="1168.5">NH</tspan><tspan x="1261.4" dy="24" font-size="38">3</tspan><tspan x="1283.3" dy="-24">/O</tspan><tspan x="1351" dy="24" font-size="38">2</tspan><tspan x="1372.2" dy="-24"> =1</tspan></text>
<text font-size="65" y="921.8"><tspan x="1168.5">NH</tspan><tspan x="1261.4" dy="24" font-size="38">3</tspan><tspan x="1283.3" dy="-24">/O</tspan><tspan x="1351" dy="24" font-size="38">2</tspan><tspan x="1372.2" dy="-24"> =2</tspan></text>
<text font-size="65" y="1022.3"><tspan x="1168.5">NH</tspan><tspan x="1261.4" dy="24" font-size="38">3</tspan><tspan x="1283.3" dy="-24">/O</tspan><tspan x="1351" dy="24" font-size="38">2</tspan><tspan x="1372.2" dy="-24"> =3</tspan></text>
<text font-size="64.8" x="1168.5" y="1123.2">Fused silica substrate</text>
</svg></body></html>
